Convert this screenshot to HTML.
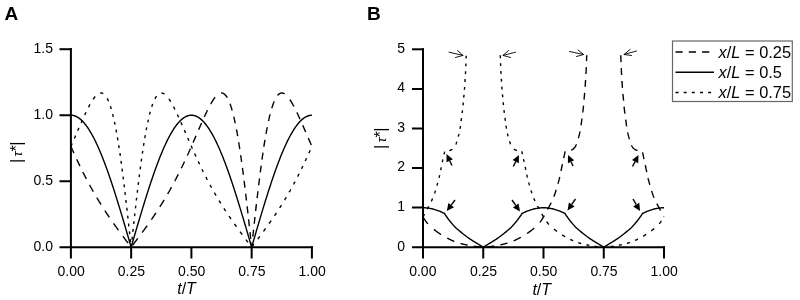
<!DOCTYPE html>
<html><head><meta charset="utf-8"><title>Figure</title>
<style>
html,body{margin:0;padding:0;background:#fff;}
svg{display:block;will-change:transform;}
text{font-family:"Liberation Sans",sans-serif;fill:#000;}
.tk{font-size:14px;}
.ti{font-size:16px;font-style:italic;}
.lg{font-size:16.4px;}
.lg2{font-size:16px;}
.pn{font-size:19px;font-weight:bold;}
.ax{stroke:#000;stroke-width:2;fill:none;stroke-linecap:butt;}
.cv{stroke:#000;stroke-width:1.4;fill:none;stroke-linejoin:round;}
</style></head><body>
<svg width="800" height="300" viewBox="0 0 800 300">
<rect width="800" height="300" fill="#fff"/>
<!-- Panel labels -->
<text class="pn" x="4.5" y="20.4">A</text>
<text class="pn" x="367" y="20.4">B</text>

<!-- Panel A axes -->
<g class="ax">
<path d="M59.5,49.2 H71.9"/>
<path d="M70.9,48.2 V258.5"/>
<path d="M59.5,115.2 H70.9 M59.5,181.2 H70.9"/>
<path d="M59.5,247.2 H312.9"/>
<path d="M131.15,247.2 V258.5 M191.4,247.2 V258.5 M251.65,247.2 V258.5 M311.9,246.2 V258.5"/>
</g>
<g class="tk" text-anchor="end">
<text x="53" y="52.6">1.5</text><text x="53" y="118.6">1.0</text><text x="53" y="184.6">0.5</text><text x="53" y="250.6">0.0</text>
</g>
<g class="tk" text-anchor="middle">
<text x="71.2" y="276">0.00</text><text x="131.4" y="276">0.25</text><text x="191.6" y="276">0.50</text><text x="251.9" y="276">0.75</text><text x="312.1" y="276">1.00</text>
</g>
<text class="lg2" x="177.2" y="294.3"><tspan font-style="italic">t</tspan>/<tspan font-style="italic">T</tspan></text>
<text class="lg" transform="translate(21.9,0) rotate(-90)"><tspan x="-163.1">|</tspan><tspan x="-156.6" font-style="italic" font-size="13.5">τ</tspan><tspan x="-151.6">*</tspan><tspan x="-145.8">|</tspan></text>

<!-- Panel A curves -->
<path class="cv" d="M70.90,115.20 L71.50,115.22 L72.11,115.27 L72.71,115.35 L73.31,115.46 L73.91,115.61 L74.52,115.79 L75.12,116.00 L75.72,116.24 L76.32,116.52 L76.93,116.83 L77.53,117.17 L78.13,117.54 L78.73,117.94 L79.34,118.38 L79.94,118.85 L80.54,119.35 L81.14,119.88 L81.75,120.44 L82.35,121.04 L82.95,121.66 L83.55,122.32 L84.16,123.00 L84.76,123.72 L85.36,124.47 L85.96,125.25 L86.57,126.06 L87.17,126.89 L87.77,127.76 L88.37,128.66 L88.98,129.59 L89.58,130.54 L90.18,131.53 L90.78,132.54 L91.39,133.58 L91.99,134.65 L92.59,135.75 L93.19,136.87 L93.80,138.03 L94.40,139.20 L95.00,140.41 L95.60,141.64 L96.21,142.90 L96.81,144.18 L97.41,145.49 L98.01,146.83 L98.62,148.19 L99.22,149.57 L99.82,150.98 L100.42,152.41 L101.03,153.86 L101.63,155.34 L102.23,156.84 L102.83,158.36 L103.44,159.91 L104.04,161.47 L104.64,163.06 L105.24,164.67 L105.84,166.30 L106.45,167.94 L107.05,169.61 L107.65,171.30 L108.25,173.00 L108.86,174.73 L109.46,176.47 L110.06,178.23 L110.67,180.01 L111.27,181.80 L111.87,183.61 L112.47,185.43 L113.08,187.27 L113.68,189.13 L114.28,191.00 L114.88,192.88 L115.49,194.78 L116.09,196.69 L116.69,198.61 L117.29,200.54 L117.90,202.49 L118.50,204.44 L119.10,206.41 L119.70,208.39 L120.31,210.37 L120.91,212.37 L121.51,214.37 L122.11,216.39 L122.72,218.41 L123.32,220.43 L123.92,222.47 L124.52,224.51 L125.12,226.55 L125.73,228.60 L126.33,230.66 L126.93,232.72 L127.54,234.78 L128.14,236.84 L128.74,238.91 L129.34,240.98 L129.94,243.05 L130.55,245.13 L131.15,247.20 L131.15,247.20 L131.75,245.13 L132.36,243.05 L132.96,240.98 L133.56,238.91 L134.16,236.84 L134.77,234.78 L135.37,232.72 L135.97,230.66 L136.57,228.60 L137.18,226.55 L137.78,224.51 L138.38,222.47 L138.98,220.43 L139.59,218.41 L140.19,216.39 L140.79,214.37 L141.39,212.37 L142.00,210.37 L142.60,208.39 L143.20,206.41 L143.80,204.44 L144.41,202.49 L145.01,200.54 L145.61,198.61 L146.21,196.69 L146.81,194.78 L147.42,192.88 L148.02,191.00 L148.62,189.13 L149.23,187.27 L149.83,185.43 L150.43,183.61 L151.03,181.80 L151.63,180.01 L152.24,178.23 L152.84,176.47 L153.44,174.73 L154.05,173.00 L154.65,171.30 L155.25,169.61 L155.85,167.94 L156.45,166.30 L157.06,164.67 L157.66,163.06 L158.26,161.47 L158.87,159.91 L159.47,158.36 L160.07,156.84 L160.67,155.34 L161.28,153.86 L161.88,152.41 L162.48,150.98 L163.08,149.57 L163.69,148.19 L164.29,146.83 L164.89,145.49 L165.49,144.18 L166.10,142.90 L166.70,141.64 L167.30,140.41 L167.90,139.20 L168.50,138.03 L169.11,136.87 L169.71,135.75 L170.31,134.65 L170.92,133.58 L171.52,132.54 L172.12,131.53 L172.72,130.54 L173.33,129.59 L173.93,128.66 L174.53,127.76 L175.13,126.89 L175.74,126.06 L176.34,125.25 L176.94,124.47 L177.54,123.72 L178.15,123.00 L178.75,122.32 L179.35,121.66 L179.95,121.04 L180.56,120.44 L181.16,119.88 L181.76,119.35 L182.36,118.85 L182.97,118.38 L183.57,117.94 L184.17,117.54 L184.77,117.17 L185.38,116.83 L185.98,116.52 L186.58,116.24 L187.18,116.00 L187.78,115.79 L188.39,115.61 L188.99,115.46 L189.59,115.35 L190.19,115.27 L190.80,115.22 L191.40,115.20 L192.00,115.22 L192.61,115.27 L193.21,115.35 L193.81,115.46 L194.41,115.61 L195.02,115.79 L195.62,116.00 L196.22,116.24 L196.82,116.52 L197.43,116.83 L198.03,117.17 L198.63,117.54 L199.23,117.94 L199.84,118.38 L200.44,118.85 L201.04,119.35 L201.64,119.88 L202.24,120.44 L202.85,121.04 L203.45,121.66 L204.05,122.32 L204.66,123.00 L205.26,123.72 L205.86,124.47 L206.46,125.25 L207.06,126.06 L207.67,126.89 L208.27,127.76 L208.87,128.66 L209.47,129.59 L210.08,130.54 L210.68,131.53 L211.28,132.54 L211.88,133.58 L212.49,134.65 L213.09,135.75 L213.69,136.87 L214.29,138.03 L214.90,139.20 L215.50,140.41 L216.10,141.64 L216.71,142.90 L217.31,144.18 L217.91,145.49 L218.51,146.83 L219.12,148.19 L219.72,149.57 L220.32,150.98 L220.92,152.41 L221.53,153.86 L222.13,155.34 L222.73,156.84 L223.33,158.36 L223.94,159.91 L224.54,161.47 L225.14,163.06 L225.74,164.67 L226.34,166.30 L226.95,167.94 L227.55,169.61 L228.15,171.30 L228.76,173.00 L229.36,174.73 L229.96,176.47 L230.56,178.23 L231.17,180.01 L231.77,181.80 L232.37,183.61 L232.97,185.43 L233.58,187.27 L234.18,189.13 L234.78,191.00 L235.38,192.88 L235.99,194.78 L236.59,196.69 L237.19,198.61 L237.79,200.54 L238.40,202.49 L239.00,204.44 L239.60,206.41 L240.20,208.39 L240.81,210.37 L241.41,212.37 L242.01,214.37 L242.61,216.39 L243.22,218.41 L243.82,220.43 L244.42,222.47 L245.02,224.51 L245.63,226.55 L246.23,228.60 L246.83,230.66 L247.43,232.72 L248.03,234.78 L248.64,236.84 L249.24,238.91 L249.84,240.98 L250.44,243.05 L251.05,245.13 L251.65,247.20 L251.65,247.20 L252.25,245.13 L252.86,243.05 L253.46,240.98 L254.06,238.91 L254.66,236.84 L255.27,234.78 L255.87,232.72 L256.47,230.66 L257.07,228.60 L257.68,226.55 L258.28,224.51 L258.88,222.47 L259.48,220.43 L260.09,218.41 L260.69,216.39 L261.29,214.37 L261.89,212.37 L262.50,210.37 L263.10,208.39 L263.70,206.41 L264.30,204.44 L264.91,202.49 L265.51,200.54 L266.11,198.61 L266.71,196.69 L267.31,194.78 L267.92,192.88 L268.52,191.00 L269.12,189.13 L269.73,187.27 L270.33,185.43 L270.93,183.61 L271.53,181.80 L272.13,180.01 L272.74,178.23 L273.34,176.47 L273.94,174.73 L274.54,173.00 L275.15,171.30 L275.75,169.61 L276.35,167.94 L276.96,166.30 L277.56,164.67 L278.16,163.06 L278.76,161.47 L279.37,159.91 L279.97,158.36 L280.57,156.84 L281.17,155.34 L281.77,153.86 L282.38,152.41 L282.98,150.98 L283.58,149.57 L284.19,148.19 L284.79,146.83 L285.39,145.49 L285.99,144.18 L286.60,142.90 L287.20,141.64 L287.80,140.41 L288.40,139.20 L289.00,138.03 L289.61,136.87 L290.21,135.75 L290.81,134.65 L291.42,133.58 L292.02,132.54 L292.62,131.53 L293.22,130.54 L293.83,129.59 L294.43,128.66 L295.03,127.76 L295.63,126.89 L296.24,126.06 L296.84,125.25 L297.44,124.47 L298.04,123.72 L298.64,123.00 L299.25,122.32 L299.85,121.66 L300.45,121.04 L301.06,120.44 L301.66,119.88 L302.26,119.35 L302.86,118.85 L303.47,118.38 L304.07,117.94 L304.67,117.54 L305.27,117.17 L305.88,116.83 L306.48,116.52 L307.08,116.24 L307.68,116.00 L308.28,115.79 L308.89,115.61 L309.49,115.46 L310.09,115.35 L310.69,115.27 L311.30,115.22 L311.90,115.20"/>
<path class="cv" d="M70.90,146.35 L71.03,146.64 L71.16,146.94 L71.29,147.23 L71.42,147.52 L71.55,147.81 L71.67,148.10 L71.80,148.39 L71.93,148.68 L72.06,148.97 L72.19,149.27 L72.33,149.57 L72.46,149.87 L72.60,150.17 L72.73,150.47 L72.86,150.77 L73.00,151.07 L73.13,151.36 L73.27,151.66 L73.40,151.96 L73.53,152.26 L73.67,152.55 L73.80,152.85 L73.93,153.15 L73.98,153.25 M76.72,159.22 L76.86,159.52 L76.99,159.82 L77.13,160.12 L77.27,160.42 L77.41,160.71 L77.55,161.01 L77.69,161.31 L77.83,161.60 L77.97,161.90 L78.11,162.19 L78.25,162.49 L78.38,162.78 L78.52,163.08 L78.66,163.37 L78.80,163.66 L78.94,163.96 L79.08,164.25 L79.22,164.54 L79.36,164.83 L79.50,165.12 L79.64,165.41 L79.78,165.70 L79.91,165.99 L79.96,166.09 M82.88,172.04 L83.02,172.33 L83.17,172.62 L83.31,172.91 L83.46,173.20 L83.60,173.49 L83.75,173.79 L83.90,174.09 L84.05,174.39 L84.21,174.69 L84.36,174.98 L84.51,175.28 L84.66,175.58 L84.81,175.87 L84.96,176.17 L85.11,176.46 L85.26,176.75 L85.41,177.05 L85.56,177.34 L85.71,177.63 L85.86,177.92 L86.01,178.21 L86.16,178.50 L86.31,178.79 L86.36,178.89 M89.55,184.89 L89.71,185.17 L89.87,185.46 L90.02,185.75 L90.18,186.04 L90.34,186.34 L90.51,186.64 L90.67,186.94 L90.84,187.24 L91.00,187.53 L91.17,187.83 L91.33,188.13 L91.49,188.42 L91.66,188.72 L91.82,189.01 L91.99,189.31 L92.15,189.60 L92.32,189.89 L92.48,190.18 L92.64,190.47 L92.81,190.76 L92.97,191.05 L93.14,191.34 L93.30,191.63 L93.36,191.73 M96.84,197.70 L97.01,197.99 L97.18,198.28 L97.35,198.57 L97.52,198.86 L97.70,199.14 L97.87,199.43 L98.04,199.72 L98.22,200.02 L98.40,200.31 L98.58,200.61 L98.77,200.91 L98.95,201.20 L99.13,201.50 L99.31,201.80 L99.49,202.09 L99.67,202.38 L99.85,202.68 L100.03,202.97 L100.21,203.26 L100.39,203.55 L100.57,203.84 L100.75,204.13 L100.93,204.42 L101.03,204.57 M104.86,210.57 L105.05,210.87 L105.24,211.16 L105.43,211.45 L105.62,211.74 L105.81,212.03 L106.00,212.31 L106.19,212.60 L106.38,212.89 L106.57,213.18 L106.76,213.46 L106.95,213.75 L107.15,214.03 L107.34,214.32 L107.53,214.60 L107.72,214.89 L107.92,215.19 L108.12,215.49 L108.32,215.79 L108.52,216.08 L108.72,216.38 L108.92,216.68 L109.13,216.97 L109.33,217.27 L109.43,217.42 M113.58,223.39 L113.78,223.68 L113.98,223.96 L114.18,224.25 L114.39,224.54 L114.60,224.84 L114.81,225.14 L115.02,225.43 L115.24,225.73 L115.45,226.03 L115.66,226.33 L115.87,226.62 L116.09,226.92 L116.30,227.22 L116.51,227.51 L116.73,227.81 L116.94,228.10 L117.15,228.39 L117.36,228.69 L117.58,228.98 L117.79,229.28 L118.00,229.57 L118.21,229.86 L118.43,230.15 L118.50,230.25 M122.93,236.26 L123.14,236.55 L123.35,236.83 L123.57,237.12 L123.78,237.40 L123.99,237.69 L124.20,237.97 L124.42,238.26 L124.63,238.54 L124.84,238.82 L125.05,239.11 L125.27,239.39 L125.48,239.68 L125.69,239.96 L125.90,240.24 L126.12,240.53 L126.33,240.81 L126.54,241.09 L126.76,241.37 L126.97,241.66 L127.18,241.94 L127.39,242.22 L127.61,242.51 L127.84,242.81 L128.06,243.11 M132.58,245.31 L132.81,245.01 L133.03,244.71 L133.26,244.41 L133.48,244.11 L133.71,243.81 L133.94,243.51 L134.16,243.21 L134.39,242.91 L134.61,242.61 L134.84,242.32 L135.05,242.03 L135.26,241.75 L135.47,241.47 L135.69,241.19 L135.90,240.90 L136.11,240.62 L136.32,240.34 L136.54,240.05 L136.75,239.77 L136.96,239.49 L137.18,239.20 L137.39,238.92 L137.60,238.64 L137.74,238.45 M142.17,232.48 L142.38,232.19 L142.60,231.90 L142.81,231.61 L143.02,231.32 L143.24,231.03 L143.45,230.74 L143.66,230.44 L143.87,230.15 L144.09,229.86 L144.30,229.57 L144.51,229.28 L144.72,228.98 L144.94,228.69 L145.15,228.39 L145.36,228.10 L145.57,227.81 L145.79,227.51 L146.00,227.22 L146.21,226.92 L146.43,226.62 L146.64,226.33 L146.85,226.03 L147.06,225.73 L147.13,225.63 M151.33,219.66 L151.53,219.37 L151.74,219.08 L151.94,218.78 L152.14,218.49 L152.34,218.20 L152.54,217.90 L152.74,217.61 L152.94,217.32 L153.14,217.02 L153.34,216.73 L153.54,216.43 L153.74,216.13 L153.94,215.84 L154.15,215.54 L154.35,215.24 L154.55,214.94 L154.74,214.65 L154.93,214.37 L155.12,214.08 L155.31,213.80 L155.50,213.51 L155.69,213.22 L155.88,212.94 L155.98,212.79 M159.85,206.83 L160.04,206.53 L160.22,206.24 L160.40,205.96 L160.58,205.67 L160.76,205.39 L160.94,205.10 L161.12,204.81 L161.31,204.52 L161.49,204.23 L161.67,203.94 L161.85,203.65 L162.03,203.36 L162.21,203.07 L162.39,202.78 L162.57,202.48 L162.75,202.19 L162.93,201.89 L163.11,201.60 L163.29,201.30 L163.47,201.01 L163.65,200.71 L163.84,200.41 L164.02,200.11 L164.11,199.97 M167.64,193.99 L167.82,193.69 L167.99,193.39 L168.16,193.10 L168.33,192.80 L168.50,192.50 L168.67,192.21 L168.83,191.92 L169.00,191.63 L169.16,191.34 L169.33,191.05 L169.49,190.76 L169.66,190.47 L169.82,190.18 L169.98,189.89 L170.15,189.60 L170.31,189.31 L170.48,189.01 L170.64,188.72 L170.81,188.42 L170.97,188.13 L171.13,187.83 L171.30,187.53 L171.46,187.24 L171.52,187.14 M174.77,181.12 L174.92,180.82 L175.08,180.52 L175.24,180.22 L175.39,179.92 L175.55,179.62 L175.71,179.33 L175.86,179.03 L176.01,178.74 L176.16,178.45 L176.31,178.16 L176.46,177.87 L176.61,177.58 L176.76,177.29 L176.91,177.00 L177.07,176.70 L177.22,176.41 L177.37,176.12 L177.52,175.82 L177.67,175.53 L177.82,175.23 L177.97,174.93 L178.12,174.64 L178.27,174.34 L178.30,174.29 M181.28,168.28 L181.42,167.98 L181.57,167.68 L181.71,167.39 L181.86,167.09 L182.00,166.79 L182.15,166.49 L182.29,166.19 L182.43,165.89 L182.57,165.60 L182.71,165.31 L182.85,165.02 L182.99,164.73 L183.13,164.44 L183.27,164.15 L183.41,163.86 L183.54,163.57 L183.68,163.27 L183.82,162.98 L183.96,162.68 L184.10,162.39 L184.24,162.10 L184.38,161.80 L184.52,161.50 L184.54,161.45 M187.32,155.46 L187.45,155.16 L187.58,154.87 L187.72,154.58 L187.85,154.28 L187.99,153.99 L188.12,153.69 L188.25,153.39 L188.39,153.10 L188.52,152.80 L188.66,152.51 L188.79,152.21 L188.92,151.91 L189.06,151.61 L189.19,151.31 L189.32,151.02 L189.46,150.72 L189.59,150.42 L189.73,150.12 L189.86,149.82 L189.99,149.52 L190.13,149.22 L190.26,148.92 L190.39,148.63 L190.41,148.59 M193.04,142.63 L193.16,142.33 L193.29,142.04 L193.42,141.74 L193.55,141.45 L193.68,141.15 L193.81,140.86 L193.94,140.56 L194.07,140.26 L194.20,139.97 L194.33,139.67 L194.46,139.37 L194.58,139.08 L194.71,138.78 L194.84,138.48 L194.97,138.18 L195.10,137.89 L195.23,137.59 L195.36,137.29 L195.49,136.99 L195.62,136.70 L195.75,136.40 L195.88,136.10 L196.00,135.80 L196.03,135.75 M198.61,129.79 L198.74,129.50 L198.87,129.20 L199.00,128.90 L199.12,128.60 L199.25,128.31 L199.38,128.01 L199.51,127.71 L199.64,127.42 L199.77,127.12 L199.90,126.82 L200.03,126.53 L200.16,126.23 L200.29,125.94 L200.42,125.64 L200.55,125.35 L200.67,125.05 L200.80,124.76 L200.93,124.46 L201.06,124.17 L201.19,123.88 L201.32,123.58 L201.45,123.29 L201.58,123.00 L201.60,122.95 M204.30,116.94 L204.43,116.64 L204.57,116.35 L204.70,116.06 L204.83,115.77 L204.97,115.48 L205.10,115.19 L205.24,114.90 L205.37,114.61 L205.51,114.31 L205.65,114.01 L205.79,113.72 L205.93,113.42 L206.07,113.13 L206.21,112.84 L206.35,112.54 L206.49,112.25 L206.63,111.95 L206.78,111.65 L206.92,111.35 L207.06,111.05 L207.21,110.76 L207.35,110.46 L207.50,110.17 L207.55,110.07 M210.68,104.09 L210.84,103.80 L211.01,103.51 L211.17,103.22 L211.34,102.93 L211.51,102.64 L211.68,102.35 L211.86,102.06 L212.04,101.77 L212.22,101.47 L212.40,101.18 L212.58,100.88 L212.77,100.59 L212.96,100.29 L213.16,100.00 L213.36,99.70 L213.56,99.40 L213.76,99.10 L213.98,98.80 L214.19,98.50 L214.41,98.21 L214.63,97.91 L214.86,97.61 L215.10,97.31 L215.14,97.26 M221.11,93.02 L221.39,93.00 L221.66,93.00 L221.94,93.03 L222.22,93.07 L222.50,93.14 L222.78,93.21 L223.05,93.32 L223.33,93.44 L223.61,93.60 L223.89,93.75 L224.17,93.95 L224.44,94.16 L224.72,94.40 L225.00,94.66 L225.27,94.93 L225.53,95.22 L225.78,95.51 L226.01,95.80 L226.23,96.10 L226.44,96.38 L226.63,96.67 L226.82,96.96 L227.00,97.24 L227.18,97.54 L227.29,97.73 M230.01,103.70 L230.12,104.00 L230.23,104.29 L230.33,104.59 L230.44,104.89 L230.54,105.18 L230.64,105.48 L230.74,105.77 L230.84,106.07 L230.94,106.36 L231.03,106.66 L231.13,106.95 L231.23,107.25 L231.32,107.54 L231.41,107.83 L231.50,108.13 L231.59,108.42 L231.68,108.72 L231.77,109.01 L231.85,109.30 L231.94,109.60 L232.02,109.89 L232.10,110.19 L232.19,110.48 L232.22,110.58 M233.76,116.56 L233.83,116.86 L233.91,117.16 L233.98,117.45 L234.05,117.75 L234.12,118.05 L234.19,118.35 L234.26,118.65 L234.32,118.95 L234.39,119.25 L234.46,119.55 L234.52,119.85 L234.59,120.15 L234.66,120.45 L234.72,120.74 L234.79,121.04 L234.85,121.34 L234.92,121.64 L234.98,121.94 L235.04,122.24 L235.11,122.54 L235.17,122.84 L235.23,123.14 L235.29,123.39 M236.48,129.41 L236.54,129.71 L236.60,130.01 L236.65,130.31 L236.71,130.61 L236.76,130.91 L236.82,131.20 L236.87,131.50 L236.93,131.80 L236.98,132.10 L237.03,132.40 L237.09,132.70 L237.14,133.00 L237.20,133.30 L237.25,133.59 L237.30,133.89 L237.36,134.19 L237.41,134.49 L237.46,134.79 L237.51,135.09 L237.57,135.39 L237.62,135.68 L237.67,135.98 L237.71,136.23 M238.72,142.24 L238.76,142.54 L238.81,142.84 L238.86,143.14 L238.91,143.43 L238.96,143.73 L239.01,144.03 L239.05,144.33 L239.10,144.62 L239.14,144.92 L239.19,145.22 L239.24,145.51 L239.28,145.81 L239.33,146.11 L239.38,146.41 L239.42,146.70 L239.47,147.00 L239.52,147.30 L239.56,147.59 L239.61,147.89 L239.65,148.19 L239.70,148.48 L239.74,148.78 L239.79,149.08 M240.67,155.08 L240.72,155.38 L240.76,155.68 L240.81,155.98 L240.85,156.28 L240.89,156.57 L240.93,156.87 L240.97,157.17 L241.02,157.47 L241.06,157.76 L241.10,158.06 L241.14,158.36 L241.18,158.66 L241.23,158.96 L241.27,159.25 L241.31,159.55 L241.35,159.85 L241.39,160.15 L241.43,160.45 L241.48,160.75 L241.52,161.04 L241.56,161.34 L241.60,161.64 L241.64,161.94 M242.45,167.92 L242.49,168.21 L242.53,168.51 L242.57,168.81 L242.61,169.11 L242.64,169.41 L242.68,169.71 L242.72,170.00 L242.76,170.30 L242.80,170.60 L242.84,170.90 L242.88,171.20 L242.92,171.50 L242.96,171.80 L242.99,172.10 L243.03,172.40 L243.07,172.69 L243.11,172.99 L243.15,173.29 L243.19,173.59 L243.23,173.89 L243.27,174.19 L243.30,174.49 L243.34,174.74 M244.09,180.76 L244.13,181.06 L244.17,181.36 L244.20,181.66 L244.24,181.95 L244.28,182.25 L244.32,182.55 L244.35,182.84 L244.39,183.14 L244.43,183.44 L244.46,183.74 L244.50,184.03 L244.53,184.33 L244.57,184.63 L244.61,184.92 L244.64,185.22 L244.68,185.52 L244.72,185.81 L244.75,186.11 L244.79,186.41 L244.82,186.71 L244.86,187.00 L244.90,187.30 L244.93,187.60 M245.65,193.58 L245.68,193.88 L245.72,194.18 L245.75,194.48 L245.79,194.78 L245.82,195.08 L245.86,195.38 L245.89,195.67 L245.93,195.97 L245.96,196.27 L246.00,196.57 L246.03,196.87 L246.07,197.17 L246.10,197.47 L246.14,197.77 L246.17,198.07 L246.21,198.36 L246.24,198.66 L246.28,198.96 L246.31,199.26 L246.35,199.55 L246.38,199.85 L246.42,200.15 L246.45,200.45 M247.14,206.41 L247.17,206.71 L247.21,207.01 L247.24,207.31 L247.27,207.60 L247.31,207.90 L247.34,208.20 L247.38,208.50 L247.41,208.80 L247.44,209.10 L247.48,209.40 L247.51,209.70 L247.55,210.00 L247.58,210.30 L247.61,210.60 L247.65,210.90 L247.68,211.19 L247.71,211.49 L247.75,211.79 L247.78,212.09 L247.82,212.39 L247.85,212.69 L247.88,212.99 L247.92,213.29 M248.58,219.23 L248.62,219.53 L248.65,219.83 L248.68,220.13 L248.71,220.43 L248.75,220.73 L248.78,221.03 L248.81,221.33 L248.85,221.63 L248.88,221.93 L248.91,222.23 L248.95,222.53 L248.98,222.83 L249.01,223.13 L249.05,223.42 L249.08,223.72 L249.11,224.02 L249.15,224.32 L249.18,224.62 L249.21,224.92 L249.25,225.22 L249.28,225.52 L249.31,225.82 L249.34,226.12 M250.00,232.08 L250.03,232.38 L250.07,232.68 L250.10,232.98 L250.13,233.27 L250.16,233.57 L250.20,233.87 L250.23,234.17 L250.26,234.46 L250.29,234.76 L250.33,235.06 L250.36,235.36 L250.39,235.65 L250.42,235.95 L250.46,236.25 L250.49,236.55 L250.52,236.85 L250.55,237.14 L250.59,237.44 L250.62,237.74 L250.65,238.04 L250.68,238.34 L250.72,238.64 L250.75,238.93 M251.40,244.91 L251.43,245.21 L251.47,245.51 L251.50,245.81 L251.53,246.10 L251.56,246.40 L251.60,246.70 L251.63,247.00 L251.66,247.15 L251.69,246.85 L251.72,246.55 L251.75,246.25 L251.79,245.95 L251.82,245.66 L251.85,245.36 L251.88,245.06 L251.92,244.76 L251.95,244.46 L251.98,244.16 L252.01,243.86 L252.05,243.56 L252.08,243.26 L252.11,242.97 L252.14,242.67 L252.15,242.62 M252.80,236.65 L252.83,236.35 L252.87,236.05 L252.90,235.75 L252.93,235.45 L252.96,235.16 L253.00,234.86 L253.03,234.56 L253.06,234.27 L253.09,233.97 L253.13,233.67 L253.16,233.37 L253.19,233.08 L253.22,232.78 L253.26,232.48 L253.29,232.18 L253.32,231.89 L253.35,231.59 L253.39,231.29 L253.42,230.99 L253.45,230.70 L253.48,230.40 L253.52,230.10 L253.55,229.80 M254.21,223.77 L254.25,223.47 L254.28,223.18 L254.31,222.88 L254.35,222.58 L254.38,222.28 L254.41,221.98 L254.45,221.68 L254.48,221.38 L254.51,221.08 L254.55,220.78 L254.58,220.48 L254.61,220.18 L254.65,219.88 L254.68,219.58 L254.71,219.28 L254.75,218.98 L254.78,218.68 L254.81,218.38 L254.85,218.08 L254.88,217.78 L254.91,217.48 L254.95,217.19 L254.97,216.94 M255.65,210.95 L255.68,210.65 L255.72,210.35 L255.75,210.05 L255.78,209.75 L255.82,209.45 L255.85,209.15 L255.88,208.85 L255.92,208.55 L255.95,208.25 L255.99,207.95 L256.02,207.65 L256.06,207.36 L256.09,207.06 L256.12,206.76 L256.16,206.46 L256.19,206.16 L256.23,205.86 L256.26,205.56 L256.29,205.26 L256.33,204.97 L256.36,204.67 L256.40,204.37 L256.42,204.12 M257.12,198.12 L257.15,197.82 L257.19,197.52 L257.22,197.22 L257.26,196.92 L257.29,196.62 L257.33,196.32 L257.36,196.02 L257.40,195.72 L257.44,195.43 L257.47,195.13 L257.51,194.83 L257.54,194.53 L257.58,194.23 L257.61,193.93 L257.65,193.63 L257.68,193.33 L257.72,193.03 L257.75,192.73 L257.79,192.44 L257.82,192.14 L257.86,191.84 L257.90,191.54 L257.93,191.29 M258.65,185.27 L258.69,184.97 L258.72,184.68 L258.76,184.38 L258.80,184.08 L258.83,183.78 L258.87,183.49 L258.90,183.19 L258.94,182.89 L258.98,182.60 L259.02,182.30 L259.05,182.00 L259.09,181.71 L259.13,181.41 L259.16,181.11 L259.20,180.81 L259.24,180.52 L259.27,180.22 L259.31,179.92 L259.35,179.63 L259.38,179.33 L259.42,179.03 L259.46,178.74 L259.50,178.44 M260.26,172.45 L260.30,172.15 L260.34,171.85 L260.38,171.55 L260.42,171.25 L260.45,170.95 L260.49,170.65 L260.53,170.35 L260.57,170.05 L260.61,169.75 L260.65,169.46 L260.69,169.16 L260.73,168.86 L260.77,168.56 L260.81,168.26 L260.85,167.97 L260.89,167.67 L260.93,167.37 L260.97,167.07 L261.01,166.77 L261.05,166.48 L261.08,166.18 L261.12,165.88 L261.16,165.58 M261.98,159.60 L262.03,159.30 L262.07,159.01 L262.11,158.71 L262.15,158.41 L262.19,158.11 L262.24,157.81 L262.28,157.52 L262.32,157.22 L262.36,156.92 L262.40,156.62 L262.45,156.33 L262.49,156.03 L262.53,155.73 L262.57,155.43 L262.62,155.13 L262.66,154.83 L262.71,154.53 L262.75,154.23 L262.79,153.94 L262.84,153.64 L262.88,153.34 L262.92,153.04 L262.97,152.74 M263.87,146.75 L263.92,146.45 L263.96,146.16 L264.01,145.86 L264.06,145.56 L264.10,145.27 L264.15,144.97 L264.19,144.67 L264.24,144.37 L264.29,144.08 L264.33,143.78 L264.38,143.48 L264.43,143.18 L264.48,142.89 L264.53,142.59 L264.58,142.29 L264.62,141.99 L264.67,141.70 L264.72,141.40 L264.77,141.10 L264.82,140.80 L264.86,140.51 L264.91,140.21 L264.96,139.91 M265.99,133.94 L266.04,133.64 L266.09,133.35 L266.15,133.05 L266.20,132.75 L266.26,132.45 L266.31,132.15 L266.37,131.85 L266.42,131.55 L266.48,131.25 L266.53,130.96 L266.58,130.66 L266.64,130.36 L266.69,130.06 L266.75,129.76 L266.81,129.46 L266.87,129.16 L266.92,128.86 L266.98,128.57 L267.04,128.27 L267.10,127.97 L267.15,127.67 L267.21,127.37 L267.27,127.07 M268.50,121.09 L268.56,120.79 L268.63,120.49 L268.70,120.20 L268.77,119.90 L268.83,119.60 L268.90,119.30 L268.97,119.00 L269.03,118.70 L269.10,118.40 L269.17,118.10 L269.24,117.80 L269.31,117.50 L269.38,117.21 L269.45,116.91 L269.52,116.61 L269.60,116.31 L269.67,116.01 L269.74,115.71 L269.81,115.41 L269.89,115.11 L269.96,114.81 L270.04,114.51 L270.10,114.26 M271.76,108.28 L271.85,107.98 L271.94,107.69 L272.03,107.39 L272.12,107.10 L272.22,106.80 L272.31,106.51 L272.41,106.21 L272.51,105.92 L272.61,105.62 L272.70,105.33 L272.81,105.03 L272.91,104.74 L273.02,104.44 L273.13,104.14 L273.23,103.85 L273.34,103.55 L273.46,103.25 L273.57,102.95 L273.69,102.65 L273.81,102.36 L273.92,102.06 L274.05,101.76 L274.17,101.47 L274.21,101.38 M277.60,95.41 L277.86,95.12 L278.12,94.84 L278.39,94.57 L278.67,94.32 L278.95,94.09 L279.23,93.89 L279.50,93.70 L279.78,93.54 L280.06,93.40 L280.34,93.29 L280.62,93.18 L280.89,93.11 L281.17,93.04 L281.45,93.02 L281.73,92.99 L282.01,93.00 L282.28,93.02 L282.56,93.06 L282.84,93.12 L283.12,93.20 L283.40,93.29 L283.68,93.40 L283.95,93.53 L284.23,93.67 L284.51,93.83 L284.60,93.89 M289.84,99.55 L290.04,99.85 L290.24,100.14 L290.43,100.44 L290.62,100.74 L290.81,101.03 L290.99,101.33 L291.17,101.62 L291.35,101.91 L291.53,102.21 L291.70,102.50 L291.87,102.79 L292.04,103.08 L292.21,103.37 L292.37,103.65 L292.54,103.94 L292.70,104.23 L292.87,104.53 L293.03,104.83 L293.20,105.12 L293.35,105.42 L293.51,105.71 L293.67,106.00 L293.83,106.30 L293.90,106.44 M296.88,112.40 L297.02,112.69 L297.16,112.98 L297.30,113.28 L297.44,113.57 L297.58,113.87 L297.72,114.16 L297.86,114.46 L298.00,114.75 L298.13,115.05 L298.27,115.34 L298.40,115.63 L298.53,115.91 L298.67,116.20 L298.80,116.50 L298.94,116.79 L299.07,117.08 L299.20,117.37 L299.34,117.67 L299.47,117.96 L299.60,118.26 L299.74,118.55 L299.87,118.85 L300.01,119.15 L300.05,119.25 M302.71,125.25 L302.84,125.54 L302.97,125.84 L303.10,126.14 L303.23,126.43 L303.36,126.73 L303.49,127.02 L303.62,127.32 L303.74,127.61 L303.87,127.91 L304.00,128.21 L304.13,128.50 L304.26,128.80 L304.39,129.10 L304.52,129.40 L304.65,129.69 L304.78,129.99 L304.91,130.29 L305.04,130.59 L305.16,130.88 L305.29,131.18 L305.42,131.48 L305.55,131.78 L305.68,132.08 M308.28,138.09 L308.41,138.38 L308.54,138.68 L308.67,138.98 L308.80,139.27 L308.93,139.57 L309.06,139.87 L309.19,140.16 L309.32,140.46 L309.45,140.76 L309.58,141.05 L309.71,141.35 L309.83,141.65 L309.96,141.94 L310.09,142.24 L310.22,142.53 L310.35,142.83 L310.48,143.12 L310.61,143.42 L310.74,143.71 L310.87,144.01 L311.00,144.30 L311.13,144.59 L311.25,144.89 L311.28,144.94"/>
<path class="cv" d="M70.90,146.35 L71.03,146.06 L71.16,145.77 L71.29,145.47 L71.42,145.18 L71.55,144.89 L71.67,144.59 L71.80,144.30 L71.93,144.01 L72.06,143.71 L72.17,143.47 M74.32,138.53 L74.45,138.23 L74.58,137.94 L74.71,137.64 L74.84,137.34 L74.97,137.04 L75.10,136.75 L75.23,136.45 L75.35,136.15 L75.48,135.85 L75.57,135.65 M77.72,130.69 L77.85,130.39 L77.98,130.09 L78.11,129.79 L78.24,129.50 L78.37,129.20 L78.50,128.90 L78.62,128.60 L78.75,128.31 L78.88,128.01 L78.95,127.86 M81.14,122.85 L81.27,122.56 L81.40,122.27 L81.53,121.98 L81.66,121.69 L81.79,121.40 L81.92,121.11 L82.05,120.82 L82.18,120.53 L82.30,120.24 L82.39,120.04 M84.67,115.05 L84.80,114.75 L84.94,114.46 L85.08,114.16 L85.22,113.87 L85.36,113.57 L85.50,113.28 L85.64,112.98 L85.78,112.69 L85.92,112.40 L86.01,112.20 M88.47,107.25 L88.62,106.97 L88.77,106.68 L88.92,106.39 L89.08,106.10 L89.24,105.81 L89.39,105.52 L89.55,105.22 L89.71,104.93 L89.88,104.63 L90.02,104.38 M93.06,99.40 L93.26,99.10 L93.48,98.80 L93.69,98.50 L93.91,98.21 L94.13,97.91 L94.36,97.61 L94.60,97.31 L94.84,97.01 L95.09,96.72 L95.22,96.57 M100.24,93.06 L100.52,93.02 L100.79,93.00 L101.07,92.99 L101.35,93.02 L101.63,93.04 L101.91,93.11 L102.18,93.18 L102.46,93.29 L102.74,93.40 L103.02,93.54 L103.20,93.65 M107.15,98.37 L107.31,98.67 L107.47,98.97 L107.63,99.27 L107.77,99.57 L107.91,99.86 L108.05,100.16 L108.19,100.45 L108.32,100.74 L108.44,101.04 L108.53,101.23 M110.37,106.17 L110.47,106.46 L110.57,106.76 L110.67,107.05 L110.76,107.34 L110.85,107.64 L110.94,107.93 L111.03,108.23 L111.12,108.52 L111.21,108.81 L111.27,109.01 M112.64,114.01 L112.71,114.31 L112.79,114.61 L112.86,114.91 L112.94,115.21 L113.01,115.51 L113.09,115.81 L113.16,116.11 L113.23,116.41 L113.30,116.71 L113.33,116.86 M114.46,121.84 L114.52,122.14 L114.59,122.44 L114.65,122.74 L114.71,123.04 L114.78,123.34 L114.84,123.63 L114.90,123.93 L114.96,124.23 L115.02,124.53 L115.05,124.68 M116.03,129.66 L116.09,129.96 L116.14,130.26 L116.20,130.56 L116.25,130.86 L116.31,131.16 L116.36,131.45 L116.42,131.75 L116.47,132.05 L116.53,132.35 L116.55,132.50 M117.43,137.47 L117.48,137.77 L117.53,138.07 L117.58,138.37 L117.63,138.67 L117.68,138.96 L117.73,139.26 L117.78,139.56 L117.83,139.86 L117.88,140.16 L117.90,140.31 M118.70,145.27 L118.74,145.56 L118.79,145.86 L118.84,146.16 L118.88,146.45 L118.93,146.75 L118.98,147.05 L119.02,147.35 L119.07,147.64 L119.11,147.94 L119.14,148.14 M119.88,153.09 L119.93,153.39 L119.97,153.69 L120.01,153.99 L120.06,154.28 L120.10,154.58 L120.15,154.88 L120.19,155.18 L120.23,155.48 L120.28,155.78 L120.30,155.93 M121.00,160.89 L121.04,161.19 L121.08,161.49 L121.12,161.79 L121.16,162.09 L121.20,162.39 L121.24,162.69 L121.28,162.99 L121.33,163.29 L121.37,163.59 L121.39,163.74 M122.05,168.71 L122.09,169.01 L122.13,169.31 L122.17,169.61 L122.21,169.90 L122.25,170.20 L122.29,170.50 L122.33,170.80 L122.37,171.10 L122.40,171.40 L122.43,171.60 M123.06,176.54 L123.10,176.84 L123.14,177.14 L123.18,177.44 L123.22,177.74 L123.25,178.04 L123.29,178.34 L123.33,178.64 L123.37,178.93 L123.40,179.23 L123.42,179.38 M124.04,184.38 L124.08,184.68 L124.11,184.97 L124.15,185.27 L124.19,185.57 L124.22,185.86 L124.26,186.16 L124.29,186.46 L124.33,186.76 L124.37,187.05 L124.38,187.20 M124.98,192.19 L125.02,192.49 L125.05,192.78 L125.09,193.08 L125.12,193.38 L125.16,193.68 L125.20,193.98 L125.23,194.28 L125.27,194.58 L125.30,194.88 L125.32,195.03 M125.90,200.00 L125.93,200.30 L125.97,200.60 L126.00,200.89 L126.04,201.19 L126.07,201.49 L126.11,201.79 L126.14,202.08 L126.18,202.38 L126.21,202.68 L126.23,202.88 M126.80,207.80 L126.83,208.10 L126.86,208.40 L126.90,208.70 L126.93,209.00 L126.97,209.30 L127.00,209.60 L127.03,209.90 L127.07,210.20 L127.10,210.50 L127.12,210.70 M127.68,215.64 L127.71,215.94 L127.75,216.24 L127.78,216.54 L127.81,216.84 L127.85,217.14 L127.88,217.44 L127.91,217.73 L127.95,218.03 L127.98,218.33 L128.00,218.48 M128.55,223.47 L128.59,223.77 L128.62,224.07 L128.65,224.37 L128.68,224.67 L128.72,224.97 L128.75,225.27 L128.78,225.57 L128.82,225.87 L128.85,226.17 L128.87,226.32 M129.41,231.29 L129.45,231.59 L129.48,231.89 L129.51,232.18 L129.54,232.48 L129.58,232.78 L129.61,233.08 L129.64,233.37 L129.67,233.67 L129.71,233.97 L129.72,234.12 M130.27,239.08 L130.30,239.38 L130.33,239.68 L130.36,239.98 L130.40,240.28 L130.43,240.58 L130.46,240.87 L130.49,241.17 L130.53,241.47 L130.56,241.77 L130.58,241.97 M131.12,246.90 L131.15,247.20 L131.18,246.95 L131.21,246.65 L131.24,246.35 L131.27,246.05 L131.31,245.76 L131.34,245.46 L131.37,245.16 L131.41,244.86 L131.43,244.66 M131.97,239.68 L132.00,239.38 L132.03,239.08 L132.07,238.79 L132.10,238.49 L132.13,238.19 L132.17,237.89 L132.20,237.59 L132.23,237.29 L132.26,236.99 L132.28,236.80 M132.83,231.84 L132.86,231.54 L132.89,231.24 L132.92,230.94 L132.96,230.65 L132.99,230.35 L133.02,230.05 L133.06,229.75 L133.09,229.45 L133.12,229.15 L133.14,229.00 M133.69,224.02 L133.72,223.72 L133.75,223.42 L133.79,223.13 L133.82,222.83 L133.85,222.53 L133.89,222.23 L133.92,221.93 L133.95,221.63 L133.99,221.33 L134.00,221.18 M134.56,216.19 L134.59,215.89 L134.63,215.59 L134.66,215.29 L134.69,214.99 L134.73,214.69 L134.76,214.39 L134.79,214.09 L134.83,213.79 L134.86,213.49 L134.88,213.34 M135.44,208.40 L135.47,208.10 L135.50,207.80 L135.54,207.51 L135.57,207.21 L135.61,206.91 L135.64,206.61 L135.67,206.31 L135.71,206.01 L135.74,205.71 L135.76,205.56 M136.34,200.55 L136.37,200.25 L136.41,199.95 L136.44,199.65 L136.47,199.36 L136.51,199.06 L136.54,198.76 L136.58,198.46 L136.61,198.16 L136.65,197.87 L136.67,197.72 M137.25,192.73 L137.29,192.44 L137.32,192.14 L137.36,191.84 L137.40,191.54 L137.43,191.24 L137.47,190.94 L137.50,190.64 L137.54,190.34 L137.57,190.04 L137.59,189.89 M138.19,184.92 L138.23,184.63 L138.27,184.33 L138.30,184.03 L138.34,183.74 L138.37,183.44 L138.41,183.14 L138.45,182.84 L138.48,182.55 L138.52,182.25 L138.54,182.10 M139.16,177.14 L139.20,176.84 L139.24,176.54 L139.27,176.24 L139.31,175.94 L139.35,175.64 L139.39,175.34 L139.43,175.04 L139.46,174.74 L139.50,174.44 L139.52,174.29 M140.17,169.31 L140.21,169.01 L140.25,168.71 L140.29,168.41 L140.33,168.11 L140.37,167.82 L140.41,167.52 L140.45,167.22 L140.49,166.92 L140.53,166.63 L140.55,166.43 M141.22,161.49 L141.26,161.19 L141.30,160.89 L141.34,160.60 L141.39,160.30 L141.43,160.00 L141.47,159.70 L141.51,159.40 L141.55,159.10 L141.60,158.81 L141.62,158.61 M142.34,153.64 L142.38,153.34 L142.42,153.04 L142.47,152.74 L142.51,152.44 L142.55,152.14 L142.60,151.84 L142.64,151.55 L142.69,151.25 L142.73,150.95 L142.75,150.81 M143.51,145.86 L143.56,145.56 L143.60,145.27 L143.65,144.97 L143.69,144.67 L143.74,144.37 L143.79,144.08 L143.83,143.78 L143.88,143.48 L143.93,143.18 L143.96,142.99 M144.78,138.02 L144.83,137.72 L144.88,137.42 L144.93,137.13 L144.98,136.83 L145.03,136.53 L145.09,136.23 L145.14,135.93 L145.19,135.63 L145.24,135.34 L145.27,135.19 M146.17,130.21 L146.22,129.91 L146.28,129.61 L146.34,129.31 L146.39,129.01 L146.45,128.72 L146.51,128.42 L146.57,128.12 L146.62,127.82 L146.68,127.52 L146.71,127.37 M147.72,122.39 L147.79,122.09 L147.85,121.79 L147.91,121.49 L147.98,121.19 L148.04,120.89 L148.11,120.59 L148.18,120.30 L148.24,120.00 L148.31,119.70 L148.34,119.55 M149.53,114.56 L149.60,114.26 L149.68,113.96 L149.75,113.66 L149.83,113.36 L149.91,113.06 L149.99,112.76 L150.07,112.46 L150.15,112.16 L150.23,111.86 L150.27,111.71 M151.73,106.76 L151.83,106.46 L151.93,106.17 L152.03,105.87 L152.12,105.58 L152.22,105.28 L152.33,104.98 L152.43,104.69 L152.54,104.39 L152.65,104.09 L152.72,103.90 M154.86,98.92 L155.01,98.62 L155.17,98.32 L155.34,98.02 L155.51,97.73 L155.68,97.44 L155.85,97.15 L156.04,96.86 L156.23,96.58 L156.42,96.29 L156.57,96.10 M161.46,93.00 L161.74,93.02 L162.02,93.06 L162.29,93.11 L162.57,93.18 L162.85,93.28 L163.13,93.38 L163.41,93.51 L163.69,93.64 L163.96,93.80 L164.24,93.97 L164.43,94.10 M168.86,98.85 L169.07,99.15 L169.27,99.45 L169.48,99.75 L169.68,100.04 L169.87,100.34 L170.06,100.64 L170.25,100.93 L170.43,101.23 L170.61,101.52 L170.73,101.72 M173.53,106.68 L173.68,106.97 L173.83,107.25 L173.98,107.54 L174.13,107.84 L174.28,108.13 L174.43,108.43 L174.58,108.72 L174.72,109.01 L174.87,109.30 L174.99,109.54 M177.38,114.51 L177.52,114.80 L177.65,115.09 L177.79,115.38 L177.92,115.67 L178.06,115.96 L178.19,116.25 L178.32,116.55 L178.46,116.84 L178.59,117.13 L178.68,117.33 M180.92,122.32 L181.05,122.61 L181.18,122.90 L181.31,123.19 L181.44,123.49 L181.57,123.78 L181.70,124.07 L181.82,124.37 L181.95,124.66 L182.08,124.96 L182.17,125.15 M184.34,130.14 L184.47,130.44 L184.60,130.74 L184.73,131.03 L184.86,131.33 L184.99,131.63 L185.12,131.93 L185.25,132.23 L185.38,132.52 L185.50,132.82 L185.57,132.97 M187.72,137.94 L187.85,138.23 L187.98,138.53 L188.11,138.83 L188.24,139.13 L188.37,139.42 L188.50,139.72 L188.62,140.02 L188.75,140.31 L188.88,140.61 L188.97,140.81 M191.14,145.77 L191.27,146.06 L191.40,146.35 L191.53,146.64 L191.66,146.94 L191.79,147.23 L191.92,147.52 L192.05,147.81 L192.17,148.10 L192.30,148.39 L192.41,148.63 M194.64,153.59 L194.77,153.89 L194.90,154.18 L195.04,154.48 L195.17,154.77 L195.31,155.07 L195.44,155.36 L195.57,155.65 L195.71,155.95 L195.84,156.24 L195.93,156.43 M198.24,161.41 L198.38,161.70 L198.51,162.00 L198.65,162.29 L198.79,162.59 L198.93,162.88 L199.07,163.17 L199.21,163.47 L199.35,163.76 L199.49,164.05 L199.58,164.25 M201.98,169.22 L202.12,169.51 L202.27,169.81 L202.41,170.10 L202.56,170.39 L202.70,170.68 L202.85,170.98 L202.99,171.27 L203.14,171.56 L203.28,171.85 L203.38,172.04 M205.91,177.05 L206.06,177.34 L206.21,177.63 L206.36,177.92 L206.51,178.21 L206.66,178.50 L206.81,178.79 L206.96,179.08 L207.12,179.37 L207.27,179.67 L207.38,179.87 M210.03,184.84 L210.18,185.13 L210.34,185.41 L210.50,185.70 L210.65,185.99 L210.82,186.29 L210.98,186.59 L211.15,186.89 L211.31,187.19 L211.47,187.48 L211.58,187.68 M214.41,192.70 L214.58,193.00 L214.75,193.30 L214.93,193.59 L215.10,193.89 L215.27,194.19 L215.44,194.49 L215.61,194.78 L215.79,195.08 L215.96,195.37 L216.05,195.52 M219.02,200.51 L219.21,200.81 L219.39,201.11 L219.57,201.40 L219.75,201.70 L219.93,201.99 L220.11,202.29 L220.29,202.58 L220.47,202.87 L220.65,203.16 L220.77,203.36 M223.90,208.32 L224.09,208.62 L224.28,208.91 L224.47,209.21 L224.66,209.50 L224.85,209.79 L225.04,210.09 L225.24,210.38 L225.43,210.67 L225.62,210.96 L225.74,211.16 M229.06,216.13 L229.26,216.43 L229.46,216.73 L229.66,217.02 L229.86,217.32 L230.06,217.61 L230.26,217.90 L230.46,218.20 L230.66,218.49 L230.86,218.78 L231.00,218.98 M234.48,223.96 L234.68,224.25 L234.89,224.54 L235.10,224.84 L235.31,225.14 L235.52,225.43 L235.74,225.73 L235.95,226.03 L236.16,226.33 L236.37,226.62 L236.48,226.77 M240.10,231.75 L240.31,232.04 L240.52,232.33 L240.73,232.62 L240.95,232.91 L241.16,233.20 L241.37,233.49 L241.58,233.77 L241.80,234.06 L242.01,234.35 L242.22,234.64 M245.91,239.58 L246.12,239.86 L246.33,240.15 L246.55,240.43 L246.76,240.71 L246.97,241.00 L247.18,241.28 L247.40,241.56 L247.61,241.85 L247.82,242.13 L248.03,242.41 M251.80,247.00 L252.03,246.70 L252.25,246.40 L252.48,246.10 L252.70,245.80 L252.93,245.51 L253.16,245.21 L253.38,244.91 L253.61,244.61 L253.83,244.31 L253.95,244.16 M257.71,239.16 L257.92,238.87 L258.14,238.59 L258.35,238.30 L258.56,238.02 L258.77,237.73 L258.99,237.45 L259.20,237.16 L259.41,236.88 L259.62,236.59 L259.84,236.31 M263.49,231.37 L263.70,231.07 L263.91,230.78 L264.13,230.49 L264.34,230.20 L264.55,229.91 L264.76,229.62 L264.98,229.32 L265.19,229.03 L265.40,228.74 L265.58,228.49 M269.12,223.54 L269.32,223.25 L269.52,222.97 L269.73,222.68 L269.93,222.40 L270.13,222.11 L270.33,221.82 L270.53,221.54 L270.73,221.25 L270.93,220.96 L271.13,220.67 M274.51,215.74 L274.71,215.44 L274.91,215.14 L275.11,214.84 L275.31,214.56 L275.50,214.27 L275.69,213.99 L275.88,213.70 L276.07,213.41 L276.26,213.13 L276.42,212.89 M279.65,207.92 L279.84,207.63 L280.03,207.33 L280.22,207.03 L280.41,206.73 L280.60,206.43 L280.78,206.15 L280.96,205.86 L281.14,205.58 L281.32,205.29 L281.47,205.05 M284.55,200.06 L284.73,199.77 L284.90,199.48 L285.07,199.19 L285.25,198.90 L285.42,198.62 L285.59,198.33 L285.76,198.04 L285.94,197.75 L286.11,197.46 L286.25,197.22 M289.14,192.26 L289.31,191.97 L289.47,191.68 L289.63,191.39 L289.80,191.10 L289.96,190.81 L290.13,190.52 L290.29,190.23 L290.46,189.94 L290.62,189.65 L290.76,189.40 M293.48,184.45 L293.64,184.16 L293.80,183.87 L293.96,183.58 L294.11,183.28 L294.27,182.99 L294.43,182.70 L294.58,182.40 L294.74,182.11 L294.90,181.81 L295.00,181.61 M297.62,176.61 L297.77,176.31 L297.92,176.02 L298.07,175.72 L298.22,175.43 L298.37,175.13 L298.52,174.83 L298.67,174.54 L298.82,174.24 L298.97,173.94 L299.05,173.79 M301.51,168.82 L301.66,168.53 L301.80,168.23 L301.95,167.93 L302.09,167.63 L302.24,167.34 L302.38,167.04 L302.53,166.74 L302.67,166.44 L302.81,166.14 L302.91,165.94 M305.25,161.01 L305.39,160.71 L305.53,160.42 L305.67,160.12 L305.81,159.82 L305.94,159.52 L306.08,159.22 L306.22,158.92 L306.36,158.62 L306.50,158.32 L306.59,158.13 M308.84,153.20 L308.98,152.90 L309.11,152.60 L309.24,152.31 L309.38,152.01 L309.51,151.71 L309.65,151.41 L309.78,151.12 L309.91,150.82 L310.05,150.52 L310.14,150.32"/>

<!-- Panel B axes -->
<g class="ax">
<path d="M412,49.3 H424"/>
<path d="M423,48.2 V258.5"/>
<path d="M412,88.9 H423 M412,128.6 H423 M412,168.1 H423 M412,207.6 H423"/>
<path d="M412,247.2 H665"/>
<path d="M483.25,247.2 V258.5 M543.5,247.2 V258.5 M603.75,247.2 V258.5 M664,246.2 V258.5"/>
</g>
<g class="tk" text-anchor="end">
<text x="405" y="52.6">5</text><text x="405" y="92.2">4</text><text x="405" y="131.8">3</text><text x="405" y="171.3">2</text><text x="405" y="210.8">1</text><text x="405" y="250.5">0</text>
</g>
<g class="tk" text-anchor="middle">
<text x="422.8" y="276">0.00</text><text x="483.5" y="276">0.25</text><text x="543.7" y="276">0.50</text><text x="604" y="276">0.75</text><text x="664.2" y="276">1.00</text>
</g>
<text class="lg2" x="532.4" y="294.6"><tspan font-style="italic">t</tspan>/<tspan font-style="italic">T</tspan></text>
<text class="lg" transform="translate(385.9,0) rotate(-90)"><tspan x="-149.1">|</tspan><tspan x="-142.6" font-style="italic" font-size="13.5">τ</tspan><tspan x="-137.6">*</tspan><tspan x="-131.8">|</tspan></text>

<!-- Panel B curves -->
<path class="cv" d="M423.00,207.70 L423.74,207.72 L424.48,207.76 L425.22,207.81 L425.97,207.88 L426.71,207.96 L427.45,208.05 L428.19,208.14 L428.93,208.25 L429.67,208.35 L430.41,208.47 L431.16,208.60 L431.90,208.77 L432.64,208.95 L433.38,209.15 L434.12,209.37 L434.86,209.60 L435.60,209.84 L436.34,210.08 L437.09,210.33 L437.83,210.58 L438.57,210.85 L439.31,211.14 L440.05,211.44 L440.79,211.75 L441.53,212.08 L442.28,212.42 L443.02,212.77 L443.76,213.13 L444.50,213.50 L444.50,213.50 L445.16,214.52 L445.81,215.52 L446.47,216.49 L447.13,217.44 L447.78,218.36 L448.44,219.26 L449.10,220.13 L449.75,220.97 L450.41,221.78 L451.07,222.56 L451.72,223.33 L452.38,224.09 L453.04,224.84 L453.69,225.59 L454.35,226.33 L455.01,227.01 L455.67,227.64 L456.32,228.26 L456.98,228.85 L457.64,229.43 L458.29,229.99 L458.95,230.54 L459.61,231.08 L460.26,231.61 L460.92,232.14 L461.58,232.66 L462.23,233.19 L462.89,233.71 L463.55,234.23 L464.20,234.74 L464.86,235.25 L465.52,235.75 L466.17,236.25 L466.83,236.74 L467.49,237.22 L468.14,237.70 L468.80,238.17 L469.46,238.63 L470.11,239.08 L470.77,239.52 L471.43,239.95 L472.08,240.37 L472.74,240.79 L473.40,241.19 L474.06,241.60 L474.71,242.00 L475.37,242.40 L476.03,242.80 L476.68,243.20 L477.34,243.61 L478.00,244.01 L478.65,244.42 L479.31,244.82 L479.97,245.22 L480.62,245.62 L481.28,246.02 L481.94,246.41 L482.59,246.81 L483.25,247.20 L483.25,247.20 L483.91,246.81 L484.56,246.41 L485.22,246.02 L485.88,245.62 L486.53,245.22 L487.19,244.82 L487.85,244.42 L488.50,244.01 L489.16,243.61 L489.82,243.20 L490.47,242.80 L491.13,242.40 L491.79,242.00 L492.44,241.60 L493.10,241.19 L493.76,240.79 L494.42,240.37 L495.07,239.95 L495.73,239.52 L496.39,239.08 L497.04,238.63 L497.70,238.17 L498.36,237.70 L499.01,237.22 L499.67,236.74 L500.33,236.25 L500.98,235.75 L501.64,235.25 L502.30,234.74 L502.95,234.23 L503.61,233.71 L504.27,233.19 L504.92,232.66 L505.58,232.14 L506.24,231.61 L506.89,231.08 L507.55,230.54 L508.21,229.99 L508.86,229.43 L509.52,228.85 L510.18,228.26 L510.83,227.64 L511.49,227.01 L512.15,226.33 L512.81,225.59 L513.46,224.84 L514.12,224.09 L514.78,223.33 L515.43,222.56 L516.09,221.78 L516.75,220.97 L517.40,220.13 L518.06,219.26 L518.72,218.36 L519.37,217.44 L520.03,216.49 L520.69,215.52 L521.34,214.52 L522.00,213.50 L522.00,213.50 L522.74,213.13 L523.48,212.77 L524.22,212.42 L524.97,212.08 L525.71,211.75 L526.45,211.44 L527.19,211.14 L527.93,210.85 L528.67,210.58 L529.41,210.33 L530.16,210.08 L530.90,209.84 L531.64,209.60 L532.38,209.37 L533.12,209.15 L533.86,208.95 L534.60,208.77 L535.34,208.60 L536.09,208.47 L536.83,208.35 L537.57,208.25 L538.31,208.14 L539.05,208.05 L539.79,207.96 L540.53,207.88 L541.28,207.81 L542.02,207.76 L542.76,207.72 L543.50,207.70 L543.50,207.70 L544.24,207.72 L544.98,207.76 L545.72,207.81 L546.47,207.88 L547.21,207.96 L547.95,208.05 L548.69,208.14 L549.43,208.25 L550.17,208.35 L550.91,208.47 L551.66,208.60 L552.40,208.77 L553.14,208.95 L553.88,209.15 L554.62,209.37 L555.36,209.60 L556.10,209.84 L556.84,210.08 L557.59,210.33 L558.33,210.58 L559.07,210.85 L559.81,211.14 L560.55,211.44 L561.29,211.75 L562.03,212.08 L562.78,212.42 L563.52,212.77 L564.26,213.13 L565.00,213.50 L565.00,213.50 L565.66,214.52 L566.31,215.52 L566.97,216.49 L567.63,217.44 L568.28,218.36 L568.94,219.26 L569.60,220.13 L570.25,220.97 L570.91,221.78 L571.57,222.56 L572.22,223.33 L572.88,224.09 L573.54,224.84 L574.19,225.59 L574.85,226.33 L575.51,227.01 L576.17,227.64 L576.82,228.26 L577.48,228.85 L578.14,229.43 L578.79,229.99 L579.45,230.54 L580.11,231.08 L580.76,231.61 L581.42,232.14 L582.08,232.66 L582.73,233.19 L583.39,233.71 L584.05,234.23 L584.70,234.74 L585.36,235.25 L586.02,235.75 L586.67,236.25 L587.33,236.74 L587.99,237.22 L588.64,237.70 L589.30,238.17 L589.96,238.63 L590.61,239.08 L591.27,239.52 L591.93,239.95 L592.58,240.37 L593.24,240.79 L593.90,241.19 L594.56,241.60 L595.21,242.00 L595.87,242.40 L596.53,242.80 L597.18,243.20 L597.84,243.61 L598.50,244.01 L599.15,244.42 L599.81,244.82 L600.47,245.22 L601.12,245.62 L601.78,246.02 L602.44,246.41 L603.09,246.81 L603.75,247.20 L603.75,247.20 L604.41,246.81 L605.06,246.41 L605.72,246.02 L606.38,245.62 L607.03,245.22 L607.69,244.82 L608.35,244.42 L609.00,244.01 L609.66,243.61 L610.32,243.20 L610.97,242.80 L611.63,242.40 L612.29,242.00 L612.94,241.60 L613.60,241.19 L614.26,240.79 L614.92,240.37 L615.57,239.95 L616.23,239.52 L616.89,239.08 L617.54,238.63 L618.20,238.17 L618.86,237.70 L619.51,237.22 L620.17,236.74 L620.83,236.25 L621.48,235.75 L622.14,235.25 L622.80,234.74 L623.45,234.23 L624.11,233.71 L624.77,233.19 L625.42,232.66 L626.08,232.14 L626.74,231.61 L627.39,231.08 L628.05,230.54 L628.71,229.99 L629.36,229.43 L630.02,228.85 L630.68,228.26 L631.33,227.64 L631.99,227.01 L632.65,226.33 L633.31,225.59 L633.96,224.84 L634.62,224.09 L635.28,223.33 L635.93,222.56 L636.59,221.78 L637.25,220.97 L637.90,220.13 L638.56,219.26 L639.22,218.36 L639.87,217.44 L640.53,216.49 L641.19,215.52 L641.84,214.52 L642.50,213.50 L642.50,213.50 L643.24,213.13 L643.98,212.77 L644.72,212.42 L645.47,212.08 L646.21,211.75 L646.95,211.44 L647.69,211.14 L648.43,210.85 L649.17,210.58 L649.91,210.33 L650.66,210.08 L651.40,209.84 L652.14,209.60 L652.88,209.37 L653.62,209.15 L654.36,208.95 L655.10,208.77 L655.84,208.60 L656.59,208.47 L657.33,208.35 L658.07,208.25 L658.81,208.14 L659.55,208.05 L660.29,207.96 L661.03,207.88 L661.78,207.81 L662.52,207.76 L663.26,207.72 L664.00,207.70"/>
<path class="cv" d="M423.00,217.00 L423.18,217.29 L423.37,217.58 L423.55,217.88 L423.73,218.17 L423.92,218.46 L424.11,218.75 L424.30,219.05 L424.49,219.34 L424.69,219.63 L424.89,219.93 L425.09,220.22 L425.29,220.51 L425.50,220.80 L425.70,221.09 L425.91,221.39 L426.12,221.68 L426.34,221.96 L426.56,222.25 L426.78,222.53 L427.01,222.83 L427.25,223.12 L427.50,223.42 L427.75,223.71 L427.91,223.90 M433.92,229.43 L434.20,229.66 L434.49,229.89 L434.77,230.11 L435.06,230.34 L435.35,230.56 L435.63,230.77 L435.92,230.99 L436.20,231.20 L436.49,231.41 L436.78,231.62 L437.06,231.83 L437.35,232.03 L437.63,232.24 L437.92,232.44 L438.21,232.64 L438.49,232.84 L438.78,233.03 L439.06,233.23 L439.35,233.42 L439.64,233.61 L439.92,233.80 L440.21,233.99 L440.49,234.17 L440.78,234.36 L441.02,234.51 M447.21,238.11 L447.50,238.26 L447.79,238.41 L448.07,238.56 L448.36,238.70 L448.64,238.85 L448.93,238.99 L449.22,239.13 L449.50,239.28 L449.79,239.42 L450.07,239.56 L450.36,239.70 L450.65,239.83 L450.93,239.97 L451.22,240.10 L451.50,240.23 L451.79,240.36 L452.08,240.49 L452.36,240.62 L452.65,240.74 L452.93,240.86 L453.22,240.98 L453.51,241.10 L453.79,241.22 L454.08,241.33 L454.32,241.42 M460.56,243.52 L460.85,243.59 L461.13,243.67 L461.42,243.74 L461.70,243.82 L461.99,243.89 L462.28,243.96 L462.56,244.03 L462.85,244.10 L463.13,244.17 L463.42,244.23 L463.71,244.30 L463.99,244.36 L464.28,244.43 L464.56,244.49 L464.85,244.55 L465.14,244.62 L465.42,244.68 L465.71,244.74 L465.99,244.80 L466.28,244.85 L466.57,244.91 L466.85,244.97 L467.14,245.03 L467.42,245.09 L467.66,245.13 M473.86,246.24 L474.15,246.29 L474.43,246.32 L474.72,246.36 L475.00,246.40 L475.29,246.44 L475.58,246.47 L475.86,246.51 L476.15,246.54 L476.43,246.57 L476.72,246.61 L477.01,246.64 L477.29,246.67 L477.58,246.71 L477.86,246.74 L478.15,246.77 L478.44,246.80 L478.72,246.83 L479.01,246.86 L479.29,246.89 L479.58,246.91 L479.87,246.94 L480.15,246.97 L480.44,246.99 L480.72,247.02 L480.96,247.04 M487.16,246.89 L487.44,246.86 L487.73,246.83 L488.02,246.80 L488.30,246.77 L488.59,246.74 L488.87,246.71 L489.16,246.68 L489.45,246.65 L489.73,246.61 L490.02,246.58 L490.30,246.55 L490.59,246.51 L490.88,246.48 L491.16,246.44 L491.45,246.41 L491.73,246.37 L492.02,246.33 L492.31,246.29 L492.59,246.25 L492.88,246.21 L493.16,246.17 L493.45,246.12 L493.74,246.08 L494.02,246.03 L494.26,245.99 M500.46,244.81 L500.74,244.75 L501.03,244.69 L501.32,244.63 L501.60,244.56 L501.89,244.50 L502.17,244.44 L502.46,244.38 L502.75,244.31 L503.03,244.25 L503.32,244.18 L503.60,244.11 L503.89,244.04 L504.18,243.97 L504.46,243.90 L504.75,243.83 L505.03,243.76 L505.32,243.68 L505.61,243.61 L505.89,243.53 L506.18,243.45 L506.46,243.37 L506.75,243.29 L507.04,243.20 L507.32,243.12 L507.56,243.05 M513.76,240.78 L514.04,240.66 L514.33,240.53 L514.61,240.41 L514.90,240.28 L515.19,240.15 L515.47,240.01 L515.76,239.88 L516.04,239.74 L516.33,239.60 L516.62,239.46 L516.90,239.32 L517.19,239.18 L517.47,239.04 L517.76,238.90 L518.05,238.75 L518.33,238.60 L518.62,238.46 L518.90,238.31 L519.19,238.16 L519.48,238.01 L519.76,237.86 L520.05,237.71 L520.33,237.56 L520.62,237.40 L520.86,237.27 M527.06,233.48 L527.34,233.29 L527.63,233.10 L527.91,232.90 L528.20,232.71 L528.49,232.51 L528.77,232.30 L529.06,232.10 L529.34,231.90 L529.63,231.69 L529.92,231.48 L530.20,231.27 L530.49,231.06 L530.77,230.84 L531.06,230.63 L531.35,230.41 L531.63,230.19 L531.92,229.96 L532.20,229.74 L532.49,229.51 L532.78,229.28 L533.06,229.05 L533.35,228.81 L533.63,228.58 L533.92,228.34 L534.16,228.14 M539.87,222.34 L540.09,222.06 L540.30,221.77 L540.52,221.48 L540.73,221.19 L540.93,220.90 L541.14,220.61 L541.34,220.32 L541.54,220.02 L541.74,219.73 L541.94,219.44 L542.13,219.15 L542.32,218.85 L542.51,218.56 L542.71,218.27 L542.89,217.97 L543.07,217.68 L543.26,217.39 L543.44,217.10 L543.58,216.85 L543.74,216.55 L543.90,216.26 L544.05,215.96 L544.21,215.66 L544.29,215.52 M547.49,209.53 L547.64,209.23 L547.80,208.94 L547.96,208.65 L548.12,208.36 L548.28,208.07 L548.44,207.78 L548.59,207.50 L548.75,207.21 L548.91,206.92 L549.07,206.64 L549.23,206.35 L549.39,206.07 L549.54,205.78 L549.70,205.49 L549.86,205.20 L550.02,204.90 L550.18,204.61 L550.32,204.33 L550.47,204.05 L550.62,203.77 L550.77,203.48 L550.91,203.19 L551.06,202.89 L551.19,202.65 M553.87,196.66 L553.98,196.36 L554.10,196.06 L554.22,195.76 L554.33,195.46 L554.44,195.16 L554.55,194.87 L554.65,194.58 L554.75,194.29 L554.85,194.00 L554.95,193.71 L555.05,193.41 L555.15,193.12 L555.24,192.82 L555.34,192.53 L555.43,192.23 L555.52,191.94 L555.62,191.64 L555.71,191.35 L555.80,191.05 L555.89,190.76 L555.97,190.47 L556.06,190.18 L556.15,189.88 L556.17,189.83 M557.92,183.86 L558.01,183.56 L558.09,183.27 L558.18,182.97 L558.27,182.67 L558.35,182.38 L558.43,182.08 L558.51,181.79 L558.59,181.49 L558.68,181.20 L558.75,180.90 L558.83,180.60 L558.91,180.31 L558.99,180.01 L559.07,179.72 L559.14,179.43 L559.22,179.13 L559.29,178.84 L559.36,178.55 L559.43,178.26 L559.50,177.97 L559.57,177.68 L559.64,177.39 L559.71,177.10 L559.73,177.00 M561.00,171.00 L561.06,170.71 L561.12,170.41 L561.18,170.12 L561.24,169.83 L561.30,169.53 L561.36,169.23 L561.42,168.93 L561.48,168.63 L561.54,168.33 L561.60,168.03 L561.65,167.74 L561.71,167.44 L561.77,167.14 L561.83,166.84 L561.89,166.55 L561.95,166.25 L562.00,165.95 L562.06,165.66 L562.12,165.36 L562.18,165.07 L562.24,164.77 L562.30,164.48 L562.35,164.18 L562.36,164.13 M563.66,158.18 L563.72,157.88 L563.79,157.58 L563.85,157.29 L563.92,156.99 L563.98,156.69 L564.04,156.39 L564.11,156.10 L564.17,155.80 L564.23,155.50 L564.30,155.21 L564.37,154.92 L564.43,154.62 L564.50,154.33 L564.56,154.03 L564.63,153.74 L564.70,153.45 L564.77,153.16 L564.84,152.87 L564.91,152.57 L564.98,152.28 L565.05,151.98 L565.13,151.69 L565.20,151.39 L565.23,151.30 M571.16,150.15 L571.44,150.03 L571.71,149.90 L571.98,149.77 L572.26,149.62 L572.53,149.45 L572.81,149.28 L573.08,149.08 L573.36,148.87 L573.63,148.64 L573.91,148.38 L574.18,148.10 L574.43,147.81 L574.67,147.53 L574.88,147.25 L575.08,146.98 L575.26,146.70 L575.42,146.42 L575.58,146.14 L575.72,145.85 L575.85,145.56 L575.98,145.27 L576.10,144.99 L576.22,144.71 L576.33,144.43 L576.44,144.14 M578.34,138.20 L578.43,137.90 L578.51,137.61 L578.59,137.32 L578.68,137.03 L578.76,136.73 L578.84,136.44 L578.92,136.15 L578.99,135.86 L579.07,135.57 L579.14,135.27 L579.22,134.98 L579.29,134.69 L579.36,134.40 L579.43,134.10 L579.50,133.81 L579.57,133.52 L579.64,133.23 L579.70,132.93 L579.77,132.64 L579.83,132.35 L579.89,132.06 L579.95,131.76 L580.01,131.47 L580.03,131.33 M581.04,125.33 L581.08,125.04 L581.12,124.75 L581.16,124.45 L581.21,124.16 L581.25,123.87 L581.29,123.58 L581.33,123.28 L581.37,122.99 L581.41,122.70 L581.45,122.41 L581.49,122.11 L581.53,121.82 L581.56,121.53 L581.60,121.24 L581.64,120.94 L581.67,120.65 L581.71,120.36 L581.74,120.07 L581.78,119.78 L581.81,119.48 L581.85,119.19 L581.88,118.90 L581.92,118.61 L581.93,118.51 M582.71,112.51 L582.75,112.22 L582.80,111.93 L582.84,111.64 L582.88,111.34 L582.92,111.05 L582.96,110.76 L583.00,110.47 L583.04,110.17 L583.08,109.88 L583.11,109.59 L583.15,109.30 L583.19,109.01 L583.22,108.71 L583.25,108.42 L583.28,108.13 L583.32,107.84 L583.35,107.54 L583.38,107.25 L583.40,106.96 L583.43,106.67 L583.46,106.37 L583.49,106.08 L583.51,105.79 L583.53,105.64 M584.03,99.65 L584.06,99.36 L584.09,99.06 L584.11,98.77 L584.14,98.48 L584.17,98.19 L584.20,97.89 L584.23,97.60 L584.25,97.31 L584.28,97.02 L584.31,96.72 L584.34,96.43 L584.37,96.14 L584.40,95.85 L584.42,95.55 L584.45,95.26 L584.48,94.97 L584.51,94.68 L584.53,94.38 L584.56,94.09 L584.59,93.80 L584.61,93.51 L584.64,93.22 L584.66,92.92 L584.67,92.83 M585.14,86.83 L585.16,86.54 L585.18,86.25 L585.20,85.95 L585.22,85.66 L585.24,85.37 L585.26,85.08 L585.28,84.78 L585.30,84.49 L585.32,84.20 L585.34,83.91 L585.36,83.61 L585.38,83.32 L585.40,83.03 L585.42,82.74 L585.44,82.44 L585.46,82.15 L585.47,81.86 L585.49,81.57 L585.51,81.28 L585.53,80.98 L585.55,80.69 L585.57,80.40 L585.59,80.11 L585.59,79.96 M585.94,74.01 L585.96,73.72 L585.98,73.43 L585.99,73.14 L586.01,72.84 L586.02,72.55 L586.04,72.26 L586.05,71.97 L586.07,71.67 L586.09,71.38 L586.10,71.09 L586.11,70.80 L586.13,70.51 L586.14,70.21 L586.16,69.92 L586.17,69.63 L586.18,69.34 L586.20,69.04 L586.21,68.75 L586.22,68.46 L586.24,68.17 L586.25,67.87 L586.26,67.58 L586.27,67.29 L586.28,67.14 M586.49,61.15 L586.51,60.86 L586.52,60.56 L586.53,60.27 L586.54,59.98 L586.55,59.69 L586.57,59.39 L586.58,59.10 L586.59,58.81 L586.60,58.52 L586.62,58.22 L586.63,57.93 L586.64,57.64 L586.66,57.35 L586.67,57.05 L586.68,56.76 L586.70,56.47 L586.71,56.18 L586.72,55.88 L586.74,55.59 L586.75,55.30"/>
<path class="cv" d="M620.75,55.30 L620.76,55.59 L620.78,55.88 L620.79,56.18 L620.80,56.47 L620.82,56.76 L620.83,57.05 L620.84,57.35 L620.86,57.64 L620.87,57.93 L620.88,58.22 L620.90,58.52 L620.91,58.81 L620.92,59.10 L620.93,59.39 L620.95,59.69 L620.96,59.98 L620.97,60.27 L620.98,60.56 L620.99,60.86 L621.01,61.15 L621.02,61.44 L621.03,61.73 L621.04,62.03 L621.05,62.17 M621.26,68.17 L621.28,68.46 L621.29,68.75 L621.30,69.04 L621.32,69.34 L621.33,69.63 L621.34,69.92 L621.36,70.21 L621.37,70.51 L621.39,70.80 L621.40,71.09 L621.41,71.38 L621.43,71.67 L621.45,71.97 L621.46,72.26 L621.48,72.55 L621.49,72.84 L621.51,73.14 L621.52,73.43 L621.54,73.72 L621.56,74.01 L621.57,74.31 L621.59,74.60 L621.61,74.89 L621.62,75.04 M621.97,80.98 L621.99,81.28 L622.01,81.57 L622.03,81.86 L622.04,82.15 L622.06,82.44 L622.08,82.74 L622.10,83.03 L622.12,83.32 L622.14,83.61 L622.16,83.91 L622.18,84.20 L622.20,84.49 L622.22,84.78 L622.24,85.08 L622.26,85.37 L622.28,85.66 L622.30,85.95 L622.32,86.25 L622.34,86.54 L622.36,86.83 L622.38,87.12 L622.41,87.42 L622.43,87.71 L622.44,87.85 M622.92,93.85 L622.94,94.14 L622.97,94.43 L623.00,94.73 L623.03,95.02 L623.05,95.31 L623.08,95.60 L623.11,95.90 L623.14,96.19 L623.17,96.48 L623.19,96.77 L623.22,97.07 L623.25,97.36 L623.28,97.65 L623.31,97.94 L623.34,98.23 L623.36,98.53 L623.39,98.82 L623.42,99.11 L623.45,99.40 L623.47,99.70 L623.50,99.99 L623.53,100.28 L623.55,100.57 L623.56,100.67 M624.07,106.67 L624.10,106.96 L624.12,107.25 L624.15,107.54 L624.18,107.84 L624.22,108.13 L624.25,108.42 L624.28,108.71 L624.31,109.01 L624.35,109.30 L624.39,109.59 L624.42,109.88 L624.46,110.17 L624.50,110.47 L624.54,110.76 L624.58,111.05 L624.62,111.34 L624.66,111.64 L624.70,111.93 L624.75,112.22 L624.79,112.51 L624.83,112.81 L624.87,113.10 L624.91,113.39 L624.93,113.54 M625.69,119.53 L625.73,119.82 L625.76,120.12 L625.80,120.41 L625.83,120.70 L625.87,120.99 L625.91,121.29 L625.94,121.58 L625.98,121.87 L626.02,122.16 L626.06,122.46 L626.10,122.75 L626.14,123.04 L626.18,123.33 L626.22,123.63 L626.26,123.92 L626.30,124.21 L626.34,124.50 L626.39,124.79 L626.43,125.09 L626.47,125.38 L626.52,125.67 L626.56,125.96 L626.60,126.26 L626.62,126.35 M627.67,132.35 L627.73,132.64 L627.80,132.93 L627.86,133.23 L627.93,133.52 L628.00,133.81 L628.07,134.10 L628.14,134.40 L628.21,134.69 L628.28,134.98 L628.36,135.27 L628.43,135.57 L628.51,135.86 L628.58,136.15 L628.66,136.44 L628.74,136.73 L628.82,137.03 L628.91,137.32 L628.99,137.61 L629.07,137.90 L629.16,138.20 L629.24,138.49 L629.33,138.78 L629.42,139.07 L629.46,139.22 M631.48,145.18 L631.60,145.46 L631.74,145.75 L631.87,146.04 L632.02,146.32 L632.18,146.61 L632.36,146.88 L632.55,147.16 L632.76,147.44 L632.99,147.72 L633.23,148.00 L633.50,148.29 L633.78,148.56 L634.05,148.80 L634.32,149.02 L634.60,149.22 L634.87,149.40 L635.15,149.57 L635.42,149.72 L635.70,149.86 L635.97,149.99 L636.25,150.11 L636.52,150.22 L636.80,150.34 L637.07,150.44 L637.35,150.53 L637.39,150.55 M642.53,152.33 L642.60,152.62 L642.67,152.91 L642.74,153.21 L642.81,153.50 L642.88,153.79 L642.95,154.08 L643.02,154.38 L643.08,154.67 L643.15,154.97 L643.21,155.26 L643.28,155.55 L643.34,155.85 L643.40,156.15 L643.47,156.44 L643.53,156.74 L643.59,157.04 L643.66,157.34 L643.72,157.63 L643.79,157.93 L643.85,158.23 L643.92,158.52 L643.98,158.82 L644.05,159.11 L644.07,159.21 M645.34,165.17 L645.40,165.46 L645.46,165.76 L645.52,166.05 L645.57,166.35 L645.63,166.65 L645.69,166.94 L645.75,167.24 L645.81,167.54 L645.87,167.84 L645.92,168.13 L645.98,168.43 L646.04,168.73 L646.10,169.03 L646.16,169.33 L646.22,169.63 L646.28,169.92 L646.34,170.22 L646.40,170.51 L646.46,170.80 L646.52,171.10 L646.58,171.39 L646.64,171.68 L646.70,171.98 L646.71,172.03 M648.01,178.02 L648.08,178.31 L648.15,178.60 L648.22,178.89 L648.30,179.18 L648.37,179.47 L648.44,179.76 L648.52,180.06 L648.60,180.35 L648.68,180.65 L648.76,180.95 L648.84,181.24 L648.92,181.54 L649.00,181.84 L649.08,182.13 L649.17,182.43 L649.25,182.72 L649.33,183.02 L649.42,183.32 L649.50,183.61 L649.59,183.91 L649.68,184.20 L649.76,184.49 L649.85,184.78 L649.87,184.88 M651.64,190.86 L651.73,191.15 L651.82,191.45 L651.91,191.74 L652.01,192.04 L652.10,192.33 L652.19,192.63 L652.29,192.92 L652.39,193.22 L652.48,193.51 L652.58,193.80 L652.68,194.09 L652.78,194.38 L652.88,194.67 L652.99,194.97 L653.10,195.26 L653.21,195.56 L653.32,195.86 L653.44,196.16 L653.56,196.46 L653.67,196.75 L653.79,197.04 L653.91,197.33 L654.02,197.61 L654.06,197.71 M656.83,203.67 L656.98,203.96 L657.13,204.24 L657.28,204.52 L657.43,204.80 L657.59,205.10 L657.75,205.39 L657.90,205.68 L658.06,205.97 L658.22,206.26 L658.38,206.54 L658.54,206.83 L658.70,207.12 L658.85,207.40 L659.01,207.69 L659.17,207.97 L659.33,208.26 L659.49,208.55 L659.65,208.84 L659.80,209.14 L659.96,209.43 L660.12,209.73 L660.28,210.02 L660.44,210.32 L660.54,210.52 M663.74,216.51 L663.89,216.80 L664.00,217.00"/>
<path class="cv" d="M423.00,217.00 L423.16,216.70 L423.32,216.41 L423.48,216.11 L423.63,215.81 L423.79,215.52 L423.95,215.22 L424.11,214.92 L424.27,214.62 L424.43,214.33 L424.53,214.13 M427.20,209.14 L427.35,208.84 L427.51,208.55 L427.67,208.26 L427.83,207.97 L427.99,207.69 L428.15,207.40 L428.30,207.12 L428.46,206.83 L428.62,206.54 L428.75,206.30 M431.31,201.34 L431.45,201.05 L431.59,200.75 L431.73,200.45 L431.87,200.15 L432.00,199.86 L432.13,199.57 L432.26,199.28 L432.39,198.98 L432.52,198.68 L432.61,198.49 M434.52,193.51 L434.61,193.22 L434.71,192.92 L434.81,192.63 L434.90,192.33 L434.99,192.04 L435.09,191.74 L435.18,191.45 L435.27,191.15 L435.36,190.86 L435.41,190.66 M436.88,185.72 L436.97,185.42 L437.05,185.12 L437.14,184.83 L437.23,184.54 L437.31,184.25 L437.40,183.96 L437.48,183.66 L437.57,183.36 L437.65,183.07 L437.71,182.87 M439.03,177.87 L439.10,177.58 L439.17,177.29 L439.23,177.00 L439.30,176.70 L439.37,176.41 L439.43,176.11 L439.50,175.81 L439.56,175.52 L439.63,175.22 L439.67,175.02 M440.69,170.07 L440.75,169.78 L440.81,169.48 L440.87,169.18 L440.93,168.88 L440.99,168.58 L441.05,168.28 L441.11,167.98 L441.16,167.69 L441.22,167.39 L441.25,167.24 M442.26,162.24 L442.32,161.94 L442.39,161.64 L442.45,161.35 L442.52,161.05 L442.58,160.75 L442.65,160.45 L442.72,160.15 L442.78,159.86 L442.85,159.56 L442.89,159.41 M443.97,154.43 L444.04,154.13 L444.11,153.84 L444.18,153.55 L444.25,153.26 L444.32,152.96 L444.38,152.67 L444.46,152.38 L444.53,152.08 L444.60,151.79 L444.65,151.59 M449.33,150.62 L449.61,150.55 L449.88,150.46 L450.16,150.35 L450.43,150.24 L450.71,150.13 L450.98,150.01 L451.26,149.88 L451.53,149.74 L451.81,149.59 L452.08,149.43 L452.31,149.28 M455.81,144.47 L455.92,144.19 L456.04,143.91 L456.14,143.62 L456.25,143.33 L456.35,143.04 L456.45,142.76 L456.55,142.47 L456.64,142.18 L456.74,141.89 L456.81,141.64 M458.27,136.69 L458.35,136.39 L458.43,136.10 L458.51,135.81 L458.58,135.52 L458.66,135.22 L458.73,134.93 L458.81,134.64 L458.88,134.35 L458.94,134.05 L459.00,133.81 M459.98,128.84 L460.03,128.55 L460.08,128.26 L460.13,127.96 L460.18,127.67 L460.22,127.38 L460.27,127.09 L460.31,126.79 L460.36,126.50 L460.40,126.21 L460.43,126.01 M461.12,121.04 L461.16,120.75 L461.20,120.46 L461.23,120.17 L461.27,119.87 L461.30,119.58 L461.34,119.29 L461.37,119.00 L461.41,118.70 L461.44,118.41 L461.47,118.17 M462.12,113.20 L462.16,112.90 L462.20,112.61 L462.24,112.32 L462.28,112.03 L462.32,111.73 L462.36,111.44 L462.41,111.15 L462.45,110.86 L462.49,110.56 L462.51,110.37 M463.05,105.40 L463.07,105.11 L463.10,104.81 L463.12,104.52 L463.15,104.23 L463.17,103.94 L463.19,103.64 L463.22,103.35 L463.24,103.06 L463.27,102.77 L463.29,102.52 M463.73,97.55 L463.76,97.26 L463.79,96.97 L463.82,96.68 L463.84,96.38 L463.87,96.09 L463.90,95.80 L463.93,95.51 L463.96,95.21 L463.98,94.92 L464.00,94.73 M464.42,89.76 L464.44,89.46 L464.46,89.17 L464.49,88.88 L464.51,88.59 L464.53,88.29 L464.55,88.00 L464.57,87.71 L464.59,87.42 L464.62,87.12 L464.63,86.93 M464.97,81.96 L464.99,81.67 L465.01,81.37 L465.02,81.08 L465.04,80.79 L465.06,80.50 L465.08,80.20 L465.10,79.91 L465.11,79.62 L465.13,79.33 L465.15,79.08 M465.44,74.11 L465.45,73.82 L465.47,73.53 L465.49,73.23 L465.50,72.94 L465.52,72.65 L465.53,72.36 L465.55,72.06 L465.56,71.77 L465.58,71.48 L465.59,71.28 M465.81,66.31 L465.82,66.02 L465.83,65.73 L465.84,65.44 L465.85,65.14 L465.86,64.85 L465.87,64.56 L465.88,64.27 L465.89,63.97 L465.90,63.68 L465.91,63.44 M466.11,58.47 L466.12,58.18 L466.13,57.88 L466.15,57.59 L466.16,57.30 L466.17,57.01 L466.19,56.71 L466.20,56.42 L466.21,56.13 L466.23,55.84 L466.23,55.64"/>
<path class="cv" d="M500.25,55.30 L500.26,55.59 L500.28,55.88 L500.29,56.18 L500.30,56.47 L500.32,56.76 L500.33,57.05 L500.34,57.35 L500.36,57.64 L500.37,57.93 L500.38,58.18 M500.58,63.15 L500.59,63.44 L500.60,63.73 L500.61,64.02 L500.62,64.32 L500.63,64.61 L500.64,64.90 L500.65,65.19 L500.66,65.49 L500.67,65.78 L500.68,65.97 M500.89,70.94 L500.91,71.24 L500.92,71.53 L500.94,71.82 L500.95,72.11 L500.97,72.41 L500.98,72.70 L501.00,72.99 L501.02,73.28 L501.03,73.58 L501.05,73.82 M501.33,78.79 L501.35,79.08 L501.37,79.37 L501.39,79.67 L501.41,79.96 L501.42,80.25 L501.44,80.54 L501.46,80.84 L501.48,81.13 L501.50,81.42 L501.51,81.62 M501.85,86.59 L501.87,86.88 L501.89,87.17 L501.91,87.46 L501.93,87.76 L501.95,88.05 L501.97,88.34 L502.00,88.63 L502.02,88.93 L502.04,89.22 L502.06,89.46 M502.47,94.43 L502.50,94.73 L502.53,95.02 L502.55,95.31 L502.58,95.60 L502.61,95.90 L502.64,96.19 L502.67,96.48 L502.69,96.77 L502.72,97.07 L502.74,97.26 M503.19,102.23 L503.21,102.52 L503.24,102.82 L503.26,103.11 L503.29,103.40 L503.31,103.69 L503.33,103.99 L503.36,104.28 L503.38,104.57 L503.41,104.86 L503.43,105.11 M503.95,110.08 L503.99,110.37 L504.03,110.66 L504.07,110.95 L504.11,111.25 L504.15,111.54 L504.19,111.83 L504.23,112.12 L504.27,112.42 L504.31,112.71 L504.34,112.90 M504.99,117.87 L505.03,118.17 L505.06,118.46 L505.10,118.75 L505.13,119.04 L505.17,119.34 L505.20,119.63 L505.24,119.92 L505.27,120.21 L505.31,120.51 L505.33,120.70 M506.02,125.67 L506.06,125.96 L506.10,126.26 L506.15,126.55 L506.19,126.84 L506.24,127.13 L506.28,127.43 L506.33,127.72 L506.38,128.01 L506.43,128.30 L506.47,128.55 M507.43,133.52 L507.50,133.81 L507.57,134.10 L507.64,134.40 L507.71,134.69 L507.78,134.98 L507.86,135.27 L507.93,135.57 L508.01,135.86 L508.08,136.15 L508.14,136.34 M509.60,141.35 L509.69,141.64 L509.78,141.94 L509.87,142.23 L509.97,142.52 L510.07,142.80 L510.16,143.09 L510.27,143.38 L510.38,143.67 L510.48,143.95 L510.58,144.19 M513.87,149.05 L514.15,149.25 L514.42,149.43 L514.69,149.59 L514.97,149.74 L515.24,149.88 L515.52,150.01 L515.79,150.13 L516.07,150.24 L516.34,150.35 L516.62,150.46 L516.85,150.53 M521.77,151.30 L521.85,151.59 L521.92,151.89 L522.00,152.18 L522.07,152.48 L522.14,152.77 L522.21,153.06 L522.28,153.35 L522.35,153.65 L522.42,153.94 L522.46,154.13 M523.55,159.11 L523.61,159.41 L523.68,159.71 L523.75,160.01 L523.82,160.30 L523.88,160.60 L523.95,160.90 L524.01,161.20 L524.08,161.49 L524.15,161.79 L524.18,161.94 M525.18,166.89 L525.24,167.19 L525.30,167.49 L525.36,167.79 L525.41,168.08 L525.47,168.38 L525.53,168.68 L525.59,168.98 L525.65,169.28 L525.71,169.58 L525.75,169.78 M526.77,174.73 L526.83,175.02 L526.89,175.32 L526.96,175.61 L527.03,175.91 L527.09,176.21 L527.16,176.51 L527.22,176.80 L527.29,177.10 L527.36,177.39 L527.40,177.58 M528.69,182.52 L528.78,182.82 L528.86,183.12 L528.95,183.41 L529.03,183.71 L529.12,184.01 L529.20,184.30 L529.29,184.59 L529.37,184.88 L529.46,185.17 L529.52,185.37 M531.00,190.37 L531.09,190.66 L531.17,190.96 L531.26,191.25 L531.35,191.54 L531.45,191.84 L531.54,192.14 L531.63,192.43 L531.72,192.73 L531.82,193.02 L531.89,193.22 M533.77,198.20 L533.89,198.49 L534.02,198.78 L534.15,199.08 L534.28,199.38 L534.41,199.67 L534.55,199.96 L534.68,200.25 L534.82,200.55 L534.96,200.85 L535.05,201.05 M537.59,206.02 L537.75,206.30 L537.90,206.59 L538.06,206.88 L538.22,207.16 L538.38,207.45 L538.54,207.73 L538.70,208.02 L538.85,208.31 L539.01,208.60 L539.15,208.84 M541.81,213.83 L541.97,214.13 L542.13,214.43 L542.29,214.72 L542.44,215.02 L542.60,215.32 L542.76,215.61 L542.92,215.91 L543.08,216.21 L543.24,216.51 L543.32,216.65 M546.59,221.63 L546.80,221.91 L547.02,222.20 L547.24,222.49 L547.47,222.78 L547.71,223.07 L547.96,223.37 L548.20,223.66 L548.46,223.94 L548.71,224.23 L548.93,224.47 M554.03,229.12 L554.32,229.35 L554.61,229.58 L554.89,229.81 L555.18,230.04 L555.46,230.26 L555.75,230.48 L556.04,230.70 L556.32,230.92 L556.61,231.13 L556.89,231.34 L556.99,231.41 M562.14,234.90 L562.42,235.08 L562.71,235.26 L563.00,235.44 L563.28,235.61 L563.57,235.78 L563.85,235.96 L564.14,236.13 L564.43,236.29 L564.71,236.46 L565.00,236.63 L565.09,236.68 M570.24,239.40 L570.53,239.53 L570.81,239.67 L571.10,239.81 L571.38,239.94 L571.67,240.08 L571.96,240.21 L572.24,240.34 L572.53,240.47 L572.81,240.60 L573.10,240.72 L573.15,240.74 M578.30,242.68 L578.58,242.77 L578.87,242.87 L579.15,242.96 L579.44,243.05 L579.73,243.13 L580.01,243.22 L580.30,243.30 L580.58,243.38 L580.87,243.46 L581.16,243.54 L581.25,243.57 M586.40,244.78 L586.69,244.84 L586.97,244.89 L587.26,244.95 L587.54,245.01 L587.83,245.07 L588.12,245.12 L588.40,245.18 L588.69,245.24 L588.97,245.29 L589.26,245.35 L589.35,245.37 M594.50,246.27 L594.79,246.31 L595.07,246.34 L595.36,246.38 L595.65,246.42 L595.93,246.45 L596.22,246.49 L596.50,246.52 L596.79,246.56 L597.08,246.59 L597.36,246.62 L597.46,246.64 M602.61,247.13 L602.89,247.15 L603.18,247.16 L603.46,247.18 L603.75,247.20 L603.99,247.19 L604.27,247.17 L604.56,247.15 L604.85,247.13 L605.13,247.11 L605.42,247.09 L605.56,247.08 M610.71,246.56 L611.00,246.52 L611.28,246.49 L611.57,246.45 L611.85,246.42 L612.14,246.38 L612.43,246.34 L612.71,246.31 L613.00,246.27 L613.28,246.22 L613.57,246.18 L613.66,246.17 M618.81,245.24 L619.10,245.18 L619.38,245.12 L619.67,245.07 L619.96,245.01 L620.24,244.95 L620.53,244.89 L620.81,244.84 L621.10,244.78 L621.39,244.72 L621.67,244.66 L621.77,244.64 M626.92,243.38 L627.20,243.30 L627.49,243.22 L627.77,243.13 L628.06,243.05 L628.35,242.96 L628.63,242.87 L628.92,242.77 L629.20,242.68 L629.49,242.58 L629.78,242.49 L629.87,242.45 M635.02,240.45 L635.30,240.32 L635.59,240.19 L635.88,240.06 L636.16,239.92 L636.45,239.79 L636.73,239.65 L637.02,239.51 L637.31,239.37 L637.59,239.23 L637.88,239.09 L637.97,239.04 M643.12,236.27 L643.41,236.10 L643.69,235.93 L643.98,235.76 L644.27,235.58 L644.55,235.41 L644.84,235.23 L645.12,235.05 L645.41,234.87 L645.70,234.69 L645.98,234.51 L646.08,234.45 M651.23,230.88 L651.51,230.66 L651.80,230.45 L652.08,230.22 L652.37,230.00 L652.66,229.77 L652.94,229.55 L653.23,229.32 L653.51,229.08 L653.80,228.85 L654.09,228.62 L654.18,228.54 M659.17,223.80 L659.42,223.51 L659.66,223.22 L659.91,222.93 L660.15,222.63 L660.37,222.34 L660.59,222.06 L660.80,221.77 L661.02,221.48 L661.23,221.19 L661.40,220.95"/>

<!-- arrows -->
<line x1="455.0" y1="200.0" x2="451.2" y2="205.1" stroke="#000" stroke-width="1.4"/><polygon points="446.8,211.0 448.4,203.0 454.0,207.2" fill="#000"/>
<line x1="512.0" y1="200.0" x2="515.8" y2="205.4" stroke="#000" stroke-width="1.4"/><polygon points="520.0,211.5 512.9,207.4 518.6,203.4" fill="#000"/>
<line x1="575.5" y1="199.0" x2="571.7" y2="204.4" stroke="#000" stroke-width="1.4"/><polygon points="567.5,210.5 568.9,202.4 574.6,206.4" fill="#000"/>
<line x1="633.0" y1="199.0" x2="636.3" y2="204.6" stroke="#000" stroke-width="1.4"/><polygon points="640.0,211.0 633.2,206.4 639.3,202.8" fill="#000"/>
<line x1="452.0" y1="165.5" x2="449.7" y2="160.7" stroke="#000" stroke-width="1.4"/><polygon points="446.5,154.0 452.9,159.2 446.5,162.2" fill="#000"/>
<line x1="513.3" y1="166.5" x2="515.7" y2="161.6" stroke="#000" stroke-width="1.4"/><polygon points="519.0,155.0 518.8,163.2 512.6,160.1" fill="#000"/>
<line x1="573.0" y1="166.0" x2="571.1" y2="161.7" stroke="#000" stroke-width="1.4"/><polygon points="568.0,155.0 574.2,160.3 567.9,163.2" fill="#000"/>
<line x1="632.5" y1="166.5" x2="635.1" y2="161.6" stroke="#000" stroke-width="1.4"/><polygon points="638.5,155.0 638.2,163.2 632.0,159.9" fill="#000"/>
<path d="M449,52.2 L463,55.4 M457.5,50.6 L463,55.4 L455.5,57.5" fill="none" stroke="#000" stroke-width="0.9" stroke-linecap="round" stroke-linejoin="round"/>
<path d="M515.5,52.2 L503,55.4 M508.5,50.5 L503,55.4 L510.5,57.5" fill="none" stroke="#000" stroke-width="0.9" stroke-linecap="round" stroke-linejoin="round"/>
<path d="M569.4,51.5 L583.5,54.5 M578,50 L583.5,54.5 L576.5,56.5" fill="none" stroke="#000" stroke-width="0.9" stroke-linecap="round" stroke-linejoin="round"/>
<path d="M636.5,51 L624,54.5 M630,49.5 L624,54.5 L631.5,55.5" fill="none" stroke="#000" stroke-width="0.9" stroke-linecap="round" stroke-linejoin="round"/>

<!-- Legend -->
<rect x="672.5" y="41" width="119.8" height="60.5" fill="#fff" stroke="#666" stroke-width="1.2"/>
<path d="M675.5,52 H709.5" stroke="#000" stroke-width="1.5" stroke-dasharray="7.2 6.1" fill="none"/>
<path d="M675.5,72.3 H714" stroke="#000" stroke-width="1.5" fill="none"/>
<path d="M675.5,92.5 H711.2" stroke="#000" stroke-width="1.5" stroke-dasharray="3 5.15" fill="none"/>
<g class="lg">
<text x="718.6" y="57.6"><tspan font-style="italic">x</tspan>/<tspan font-style="italic">L</tspan> = 0.25</text>
<text x="718.6" y="77.8"><tspan font-style="italic">x</tspan>/<tspan font-style="italic">L</tspan> = 0.5</text>
<text x="718.6" y="98"><tspan font-style="italic">x</tspan>/<tspan font-style="italic">L</tspan> = 0.75</text>
</g>
</svg>
</body></html>
